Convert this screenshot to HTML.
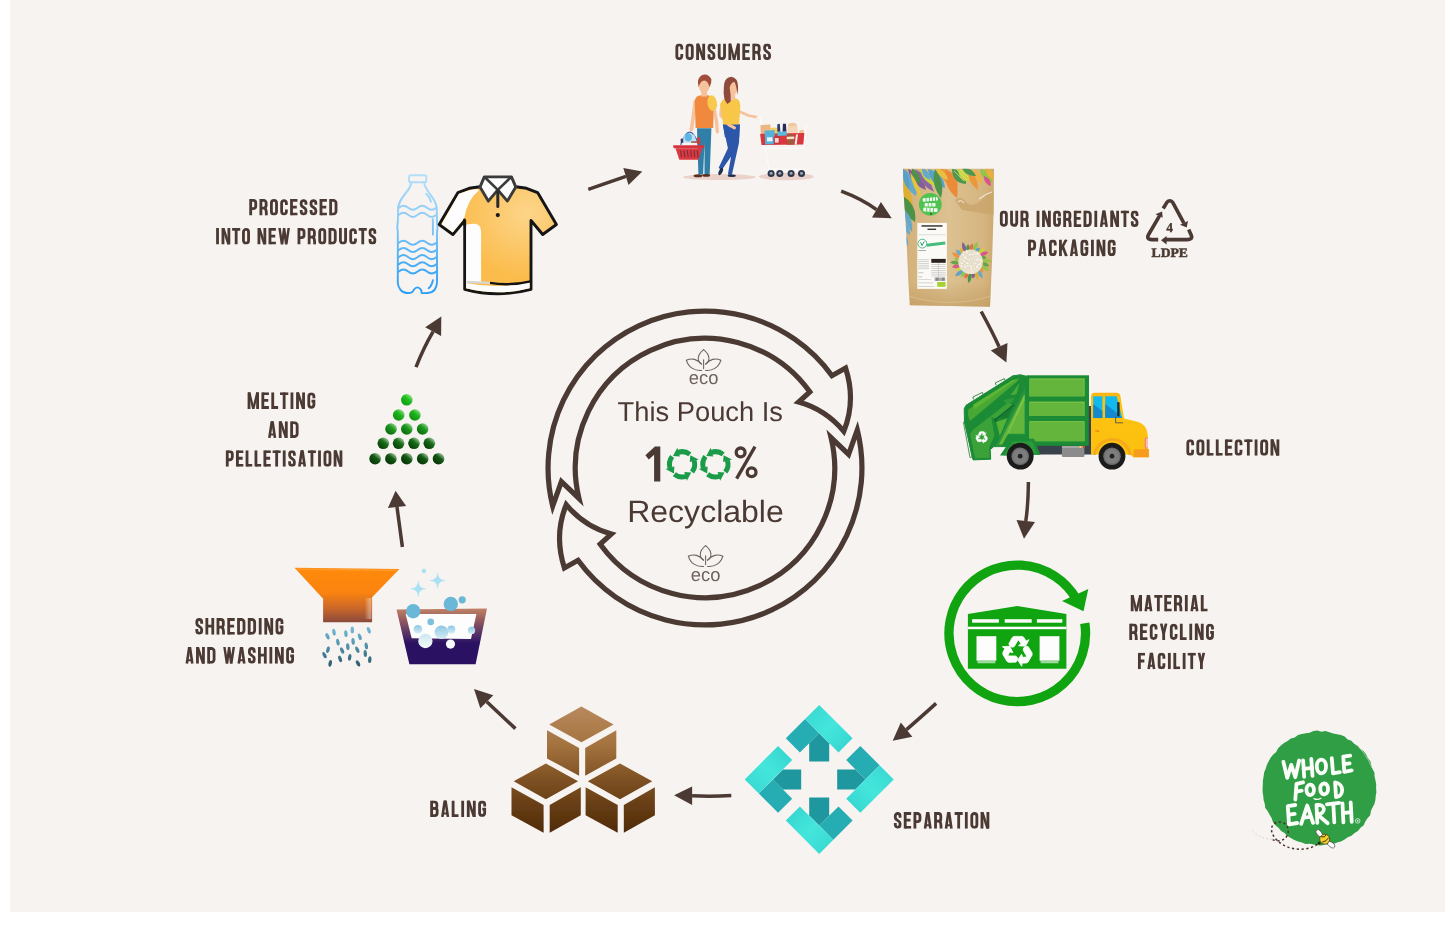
<!DOCTYPE html>
<html><head><meta charset="utf-8"><title>Recycling cycle</title>
<style>html,body{margin:0;padding:0;background:#fff;}body{width:1445px;height:942px;overflow:hidden;font-family:"Liberation Sans",sans-serif;}svg{display:block;} svg text{text-rendering:geometricPrecision;} svg{will-change:transform;}</style>
</head><body>
<svg width="1445" height="942" viewBox="0 0 1445 942">
<rect x="10" y="0" width="1435" height="912" fill="#f7f3f1"/>
<!-- 05_center.svg -->
<g font-family="Liberation Sans, sans-serif" fill="#4b3a33"><text x="617.6" y="421" font-size="27.4" textLength="165.4" lengthAdjust="spacingAndGlyphs">This Pouch Is</text><text x="627.2" y="522" font-size="30.8" textLength="156.6" lengthAdjust="spacingAndGlyphs">Recyclable</text></g><path d="M660.3 446.6 L660.3 481.4 L654.1 481.4 L654.1 454.8 L648.8 459.6 L645.4 455.3 L654.9 446.6 Z" fill="#4b3a33"/><g fill="none" stroke="#4b3a33" stroke-width="3.3"><circle cx="740.6" cy="452.4" r="4.4"/><circle cx="751.6" cy="472.2" r="4.4"/><path d="M755 446.6 L736.6 478.6"/></g><g transform="translate(682.1 464.3)"><g transform="rotate(0)"><path d="M7.76 -9.93 A12.6 12.6 0 0 0 -3.89 -11.98" fill="none" stroke="#1a9b48" stroke-width="5.0"/><path d="M-9.14 -8.23 L-4.74 -16.53 L-2.21 -7.69 Z" fill="#1a9b48"/></g><g transform="rotate(90)"><path d="M7.76 -9.93 A12.6 12.6 0 0 0 -3.89 -11.98" fill="none" stroke="#1a9b48" stroke-width="5.0"/><path d="M-9.14 -8.23 L-4.74 -16.53 L-2.21 -7.69 Z" fill="#1a9b48"/></g><g transform="rotate(180)"><path d="M7.76 -9.93 A12.6 12.6 0 0 0 -3.89 -11.98" fill="none" stroke="#1a9b48" stroke-width="5.0"/><path d="M-9.14 -8.23 L-4.74 -16.53 L-2.21 -7.69 Z" fill="#1a9b48"/></g><g transform="rotate(270)"><path d="M7.76 -9.93 A12.6 12.6 0 0 0 -3.89 -11.98" fill="none" stroke="#1a9b48" stroke-width="5.0"/><path d="M-9.14 -8.23 L-4.74 -16.53 L-2.21 -7.69 Z" fill="#1a9b48"/></g></g><g transform="translate(715.4 464.3)"><g transform="rotate(0)"><path d="M7.76 -9.93 A12.6 12.6 0 0 0 -3.89 -11.98" fill="none" stroke="#1a9b48" stroke-width="5.0"/><path d="M-9.14 -8.23 L-4.74 -16.53 L-2.21 -7.69 Z" fill="#1a9b48"/></g><g transform="rotate(90)"><path d="M7.76 -9.93 A12.6 12.6 0 0 0 -3.89 -11.98" fill="none" stroke="#1a9b48" stroke-width="5.0"/><path d="M-9.14 -8.23 L-4.74 -16.53 L-2.21 -7.69 Z" fill="#1a9b48"/></g><g transform="rotate(180)"><path d="M7.76 -9.93 A12.6 12.6 0 0 0 -3.89 -11.98" fill="none" stroke="#1a9b48" stroke-width="5.0"/><path d="M-9.14 -8.23 L-4.74 -16.53 L-2.21 -7.69 Z" fill="#1a9b48"/></g><g transform="rotate(270)"><path d="M7.76 -9.93 A12.6 12.6 0 0 0 -3.89 -11.98" fill="none" stroke="#1a9b48" stroke-width="5.0"/><path d="M-9.14 -8.23 L-4.74 -16.53 L-2.21 -7.69 Z" fill="#1a9b48"/></g></g><g fill="none" stroke="#6e625d" stroke-width="1.05" stroke-linecap="round"><path d="M703.6 349.6 C696.1 355.6 697.6 361.6 701.6 364.1"/><path d="M703.6 349.6 C711.1 355.6 709.6 361.6 705.6 364.1"/><path d="M703.6 359.8 L703.6 368.6"/><path d="M701.6 364.1 C697.6 359.1 691.6 357.8 686.4 360.2"/><path d="M686.4 360.2 C688.1 367.1 694.6 371.1 701.6 370.4"/><path d="M705.6 364.1 C709.6 359.1 715.6 357.8 720.8 360.2"/><path d="M720.8 360.2 C719.1 367.1 712.6 371.1 705.6 370.4"/></g><text x="703.6" y="384.1" font-family="Liberation Sans, sans-serif" font-size="18.6" fill="#6e625d" text-anchor="middle" textLength="29.6" lengthAdjust="spacingAndGlyphs">eco</text><g fill="none" stroke="#6e625d" stroke-width="1.05" stroke-linecap="round"><path d="M705.6 545.6 C698.1 551.6 699.6 557.6 703.6 560.1"/><path d="M705.6 545.6 C713.1 551.6 711.6 557.6 707.6 560.1"/><path d="M705.6 555.8 L705.6 564.6"/><path d="M703.6 560.1 C699.6 555.1 693.6 553.8 688.4 556.2"/><path d="M688.4 556.2 C690.1 563.1 696.6 567.1 703.6 566.4"/><path d="M707.6 560.1 C711.6 555.1 717.6 553.8 722.8 556.2"/><path d="M722.8 556.2 C721.1 563.1 714.6 567.1 707.6 566.4"/></g><text x="705.6" y="580.6" font-family="Liberation Sans, sans-serif" font-size="18.6" fill="#6e625d" text-anchor="middle" textLength="29.6" lengthAdjust="spacingAndGlyphs">eco</text>
<!-- 10_pellets.svg -->
<defs><linearGradient id="pg0" x1="0.88" y1="0.08" x2="0.2" y2="0.92"><stop offset="0" stop-color="#9cec96"/><stop offset="0.42" stop-color="#22c022"/><stop offset="1" stop-color="#0f9a0f"/></linearGradient><linearGradient id="pg1" x1="0.88" y1="0.08" x2="0.2" y2="0.92"><stop offset="0" stop-color="#94e48e"/><stop offset="0.42" stop-color="#1fb51f"/><stop offset="1" stop-color="#0e8e0e"/></linearGradient><linearGradient id="pg2" x1="0.88" y1="0.08" x2="0.2" y2="0.92"><stop offset="0" stop-color="#9ad894"/><stop offset="0.42" stop-color="#1f981f"/><stop offset="1" stop-color="#0b680b"/></linearGradient><linearGradient id="pg3" x1="0.88" y1="0.08" x2="0.2" y2="0.92"><stop offset="0" stop-color="#a8d2a4"/><stop offset="0.42" stop-color="#1a6c1a"/><stop offset="1" stop-color="#063e06"/></linearGradient><linearGradient id="pg4" x1="0.88" y1="0.08" x2="0.2" y2="0.92"><stop offset="0" stop-color="#b0d2ac"/><stop offset="0.42" stop-color="#145814"/><stop offset="1" stop-color="#053305"/></linearGradient></defs><g><circle cx="406.8" cy="399.8" r="5.8" fill="url(#pg0)"/><circle cx="398.7" cy="415.0" r="5.8" fill="url(#pg1)"/><circle cx="414.9" cy="415.0" r="5.8" fill="url(#pg1)"/><circle cx="391.0" cy="429.0" r="5.8" fill="url(#pg2)"/><circle cx="406.8" cy="429.0" r="5.8" fill="url(#pg2)"/><circle cx="422.6" cy="429.0" r="5.8" fill="url(#pg2)"/><circle cx="383.3" cy="443.3" r="5.8" fill="url(#pg3)"/><circle cx="398.6" cy="443.3" r="5.8" fill="url(#pg3)"/><circle cx="414.0" cy="443.3" r="5.8" fill="url(#pg3)"/><circle cx="429.3" cy="443.3" r="5.8" fill="url(#pg3)"/><circle cx="375.1" cy="458.7" r="5.8" fill="url(#pg4)"/><circle cx="390.9" cy="458.7" r="5.8" fill="url(#pg4)"/><circle cx="406.8" cy="458.7" r="5.8" fill="url(#pg4)"/><circle cx="422.7" cy="458.7" r="5.8" fill="url(#pg4)"/><circle cx="438.5" cy="458.7" r="5.8" fill="url(#pg4)"/></g>
<!-- 20_funnel.svg -->
<defs><linearGradient id="fg" x1="0" y1="0" x2="0" y2="1"><stop offset="0" stop-color="#ff8a0a"/><stop offset="0.45" stop-color="#fb8410"/><stop offset="0.75" stop-color="#c9662a"/><stop offset="1" stop-color="#8a4a3c"/></linearGradient>
<linearGradient id="dg" gradientUnits="userSpaceOnUse" x1="0" y1="627" x2="0" y2="668"><stop offset="0" stop-color="#74bbdb"/><stop offset="0.5" stop-color="#4f8ea6"/><stop offset="1" stop-color="#2c5866"/></linearGradient></defs>
<path d="M294.5 567.8 L399.5 569 L372.1 597.2 L372.1 622.3 L323.1 622.3 L323.1 598.7 Z" fill="url(#fg)"/>
<path d="M296.5 568.4 L397 569.6 L395.5 571 L298 570 Z" fill="#ffa23a" opacity="0.7"/>
<defs><linearGradient id="fhl" x1="0" y1="0" x2="1" y2="0"><stop offset="0" stop-color="#fff" stop-opacity="0"/><stop offset="0.75" stop-color="#fff" stop-opacity="0.4"/><stop offset="1" stop-color="#fff" stop-opacity="0.05"/></linearGradient></defs><rect x="364.5" y="598" width="7.6" height="21" fill="url(#fhl)"/><g fill="url(#dg)"><ellipse cx="334.0" cy="632.2" rx="1.7" ry="3.4" transform="rotate(-8 334.0 632.2)"/><ellipse cx="345.9" cy="633.7" rx="1.7" ry="3.4" transform="rotate(-5 345.9 633.7)"/><ellipse cx="352.3" cy="629.9" rx="1.7" ry="3.4" transform="rotate(0 352.3 629.9)"/><ellipse cx="368.8" cy="630.2" rx="1.7" ry="3.4" transform="rotate(-20 368.8 630.2)"/><ellipse cx="327.5" cy="636.3" rx="1.7" ry="3.4" transform="rotate(-25 327.5 636.3)"/><ellipse cx="337.9" cy="642.1" rx="1.7" ry="3.4" transform="rotate(-10 337.9 642.1)"/><ellipse cx="359.8" cy="636.8" rx="1.7" ry="3.4" transform="rotate(-20 359.8 636.8)"/><ellipse cx="347.8" cy="646.7" rx="1.7" ry="3.4" transform="rotate(-5 347.8 646.7)"/><ellipse cx="366.3" cy="645.9" rx="1.7" ry="3.4" transform="rotate(-8 366.3 645.9)"/><ellipse cx="328.0" cy="649.7" rx="1.7" ry="3.4" transform="rotate(15 328.0 649.7)"/><ellipse cx="342.1" cy="650.5" rx="1.7" ry="3.4" transform="rotate(-25 342.1 650.5)"/><ellipse cx="357.3" cy="649.7" rx="1.7" ry="3.4" transform="rotate(-25 357.3 649.7)"/><ellipse cx="324.5" cy="655.1" rx="1.7" ry="3.4" transform="rotate(-25 324.5 655.1)"/><ellipse cx="340.1" cy="658.9" rx="1.7" ry="3.4" transform="rotate(-20 340.1 658.9)"/><ellipse cx="349.7" cy="657.3" rx="1.7" ry="3.4" transform="rotate(8 349.7 657.3)"/><ellipse cx="369.8" cy="659.6" rx="1.7" ry="3.4" transform="rotate(5 369.8 659.6)"/><ellipse cx="330.2" cy="663.4" rx="1.7" ry="3.4" transform="rotate(10 330.2 663.4)"/><ellipse cx="358.0" cy="663.4" rx="1.7" ry="3.4" transform="rotate(-28 358.0 663.4)"/><ellipse cx="365.3" cy="653.5" rx="1.7" ry="3.4" transform="rotate(-5 365.3 653.5)"/><ellipse cx="353.1" cy="641.4" rx="1.7" ry="3.4" transform="rotate(-5 353.1 641.4)"/></g>
<!-- 21_basin.svg -->
<defs><linearGradient id="bsg" x1="0" y1="0" x2="0" y2="1"><stop offset="0" stop-color="#c08266"/><stop offset="0.18" stop-color="#9a5f5e"/><stop offset="0.5" stop-color="#4a2a68"/><stop offset="0.62" stop-color="#2a1162"/><stop offset="1" stop-color="#2a1162"/></linearGradient>
<linearGradient id="bub" x1="0" y1="0" x2="0" y2="1"><stop offset="0" stop-color="#8cc8e2"/><stop offset="1" stop-color="#d6ecf5"/></linearGradient>
<linearGradient id="bub2" x1="0" y1="0" x2="0" y2="1"><stop offset="0" stop-color="#cfe6f0"/><stop offset="1" stop-color="#f4fafc"/></linearGradient></defs>
<path d="M396.5 609.4 L487 608.6 L475.6 664.2 L409.4 664.2 Z" fill="url(#bsg)"/>
<path d="M405.6 614 L476.4 614 L471 639 L411.7 638.3 Z" fill="#fdfdfd"/>
<g fill="#6bb7d8">
<circle cx="413.2" cy="611.2" r="7.2"/><circle cx="450.8" cy="604" r="7.2"/><circle cx="462.2" cy="599.8" r="3.6"/>
<circle cx="430.7" cy="621.9" r="3.3" fill="#7cc0dc"/>
</g>
<g fill="url(#bub)"><circle cx="417.9" cy="629.2" r="4.3"/><circle cx="441.4" cy="632.2" r="6.8"/><circle cx="451.3" cy="629.6" r="4"/><circle cx="471.5" cy="630.4" r="3.7"/></g>
<circle cx="425.4" cy="641" r="7.2" fill="url(#bub2)"/><circle cx="450.5" cy="644.1" r="4.6" fill="#f6fbfd"/>
<g fill="#a9e0f2"><circle cx="423.9" cy="570.9" r="2.2"/>
<path d="M418.2 581.3 Q418.5 588.5 425.7 588.8 Q418.5 589.1 418.2 596.3 Q417.9 589.1 410.7 588.8 Q417.9 588.5 418.2 581.3Z" stroke="#a9e0f2" stroke-width="0.5"/>
<path d="M437.6 573 Q437.9 580.2 445.1 580.5 Q437.9 580.8 437.6 588 Q437.3 580.8 430.1 580.5 Q437.3 580.2 437.6 573Z" stroke="#a9e0f2" stroke-width="0.5"/></g>
<!-- 30_cubes.svg -->
<defs><linearGradient id="cbg" gradientUnits="userSpaceOnUse" x1="0" y1="706" x2="0" y2="834"><stop offset="0" stop-color="#b98a5f"/><stop offset="0.3" stop-color="#a4733f"/><stop offset="0.58" stop-color="#7d5022"/><stop offset="1" stop-color="#4e2906"/></linearGradient><filter id="cbb" x="-5%" y="-5%" width="110%" height="110%"><feGaussianBlur stdDeviation="0.35"/></filter></defs><g fill="url(#cbg)" filter="url(#cbb)"><polygon points="581.4,706.5 613.6,724.4 581.4,742.3 549.2,724.4"/><polygon points="547.0,730.3 579.1,748.1 579.1,775.8 547.0,758.4"/><polygon points="585.2,748.1 616.3,730.3 616.3,758.4 585.2,775.8"/><polygon points="545.9,763.4 578.1,781.3 545.9,799.2 513.7,781.3"/><polygon points="511.5,787.2 543.6,805.0 543.6,832.7 511.5,815.3"/><polygon points="549.7,805.0 580.8,787.2 580.8,815.3 549.7,832.7"/><polygon points="620.0,763.4 652.2,781.3 620.0,799.2 587.8,781.3"/><polygon points="585.6,787.2 617.7,805.0 617.7,832.7 585.6,815.3"/><polygon points="623.8,805.0 654.9,787.2 654.9,815.3 623.8,832.7"/></g>
<!-- 40_separation.svg -->
<defs><linearGradient id="spl" x1="0" y1="0" x2="1" y2="1"><stop offset="0" stop-color="#36d6cf"/><stop offset="0.5" stop-color="#44e6dc"/><stop offset="1" stop-color="#33d2cc"/></linearGradient><g id="sparr"><polygon points="-14.1,-60.4 -33.4,-41.1 -19.3,-27 0,-46.2" fill="#25adb3"/><polygon points="0,-46.2 10,-36.2 10,-18 -10,-18 -10,-36.2" fill="#1e979f"/><polygon points="0,-74.5 33.4,-41.1 19.3,-27 -14.1,-60.4" fill="url(#spl)"/></g></defs><g transform="translate(819.2 779.4)"><use href="#sparr" transform="rotate(0)"/><use href="#sparr" transform="rotate(90)"/><use href="#sparr" transform="rotate(180)"/><use href="#sparr" transform="rotate(270)"/></g>
<!-- 50_facility.svg -->
<g><path d="M1084.8 623.2 A68.3 68.3 0 1 1 1076.4 599.2" fill="none" stroke="#10a410" stroke-width="9.3"/><path d="M1088.3 588.9 L1062 601.1 L1083.5 611.3 Z" fill="#10a410"/><path d="M967.9 613.9 L1017.3 606.1 L1066.4 613.9 L1066.4 668.8 L967.9 668.8 Z" fill="#10a410"/><g fill="#fdfdfd"><rect x="972.1" y="619.2" width="26.8" height="3.5"/><rect x="1004.7" y="619.2" width="27" height="3.5"/><rect x="1036.9" y="619.2" width="25.4" height="3.5"/><rect x="967.9" y="626.7" width="98.5" height="2.5"/><rect x="976.5" y="636.2" width="19.8" height="24.5"/><rect x="1039.6" y="636.2" width="19.8" height="24.5"/></g><g fill="#9fd89f"><rect x="977.5" y="660.7" width="17.8" height="2.6"/><rect x="1040.6" y="660.7" width="17.8" height="2.6"/></g><g transform="translate(1017.70 650.90) scale(1.000) rotate(0)" fill="#fdfdfd" stroke="#fdfdfd" stroke-width="0.8" stroke-linejoin="round"><path d="M-8.90 -7.00 L-5.60 -13.20 L-3.80 -14.50 L4.60 -14.50 L6.20 -13.40 L8.40 -9.90 L11.30 -11.20 L7.90 -4.60 L0.90 -5.10 L3.20 -7.40 L0.60 -11.20 L-3.40 -4.40 L-5.40 -3.60 L-7.60 -4.60 Z" transform="rotate(0)"/><path d="M-8.90 -7.00 L-5.60 -13.20 L-3.80 -14.50 L4.60 -14.50 L6.20 -13.40 L8.40 -9.90 L11.30 -11.20 L7.90 -4.60 L0.90 -5.10 L3.20 -7.40 L0.60 -11.20 L-3.40 -4.40 L-5.40 -3.60 L-7.60 -4.60 Z" transform="rotate(120)"/><path d="M-8.90 -7.00 L-5.60 -13.20 L-3.80 -14.50 L4.60 -14.50 L6.20 -13.40 L8.40 -9.90 L11.30 -11.20 L7.90 -4.60 L0.90 -5.10 L3.20 -7.40 L0.60 -11.20 L-3.40 -4.40 L-5.40 -3.60 L-7.60 -4.60 Z" transform="rotate(240)"/></g></g>
<!-- 60_truck.svg -->
<g><rect x="1034" y="445" width="58" height="9.5" fill="#38414c"/><rect x="1061.9" y="446" width="22.5" height="11" rx="1" fill="#8b8b8b"/><rect x="1061.9" y="446" width="22.5" height="2" fill="#a5a5a5"/><path d="M963.4 422.2 L965.6 421.8 L972.0 457 L970.0 457.6 Z" fill="#e9f0e6" stroke="#2f7f3d" stroke-width="0.8"/><polygon points="964.2,408.8 966.0,405.3 1012.9,375.8 1020.5,374.8 1029.1,376.9 1029.6,446.6 993.8,446.6 990.2,449.6 990.7,459.2 973.1,459.9 964.5,422.4" fill="#1b8b36" stroke="#1b8b36" stroke-width="1" stroke-linejoin="round"/><polygon points="968.3,409.5 1012.9,379.9 1019.5,378.3 1016.5,382.1 970.1,420.9 968.1,415.4" fill="#49a834" /><polygon points="973.1,404.8 1012.4,380.1 1016.5,379.6 974.1,409.3" fill="#5cb636" /><polygon points="972.1,430.5 1008.4,402.3 1012.4,404.8 996.3,418.4 992.3,420.4 994.8,435.5 989.2,447.6 989.7,457.7 975.1,458.2 970.1,434.5" fill="#3ba23a" /><polygon points="996.3,421.9 1007.4,418.2 999.8,436.0" fill="#55b236" /><polygon points="1010.4,395.2 1019.5,383.1 1016.5,394.2" fill="#4aaa36" /><polygon points="1003.3,400.2 1014.4,397.2 1012.4,402.3 1005.4,403.3" fill="#2f9a3a" /><polygon points="1025.3,387.1 1025.3,434.5 1007.4,434.5 1000.8,446.6 995.3,446.6" fill="#2a953c" /><polygon points="1024.5,394.2 1024.5,433.7 1008.2,433.7 1002.3,444.6 998.8,444.6" fill="#63b53c" /><polygon points="1024.5,394.2 1024.5,400.2 1008.2,433.7 1006.9,433.7" fill="#7cc444" /><path d="M1013.9 404.8 L995.5 419.6" stroke="#156b2c" stroke-width="1.5"/><polygon points="998.8,418.2 1012.9,406.8 1007.4,417.9" fill="#197a30" /><circle cx="995.5" cy="419.8" r="1.9" fill="#156b2c"/><path d="M992.1 417.4 L995.3 435.5 L990.2 448.1" fill="none" stroke="#1d8a36" stroke-width="1.6"/><path d="M973.6 399.4 L972.9 397.0 L982.4 392.4 L983.2 394.7" fill="none" stroke="#2c7f3a" stroke-width="0.9"/><path d="M996.0 385.1 L995.3 382.9 L1004.4 378.6 L1005.2 380.6" fill="none" stroke="#2c7f3a" stroke-width="0.9"/><g transform="translate(981.80 437.20) scale(0.400) rotate(0)" fill="#ffffff" stroke="#ffffff" stroke-width="0.8" stroke-linejoin="round"><path d="M-8.90 -7.00 L-5.60 -13.20 L-3.80 -14.50 L4.60 -14.50 L6.20 -13.40 L8.40 -9.90 L11.30 -11.20 L7.90 -4.60 L0.90 -5.10 L3.20 -7.40 L0.60 -11.20 L-3.40 -4.40 L-5.40 -3.60 L-7.60 -4.60 Z" transform="rotate(0)"/><path d="M-8.90 -7.00 L-5.60 -13.20 L-3.80 -14.50 L4.60 -14.50 L6.20 -13.40 L8.40 -9.90 L11.30 -11.20 L7.90 -4.60 L0.90 -5.10 L3.20 -7.40 L0.60 -11.20 L-3.40 -4.40 L-5.40 -3.60 L-7.60 -4.60 Z" transform="rotate(120)"/><path d="M-8.90 -7.00 L-5.60 -13.20 L-3.80 -14.50 L4.60 -14.50 L6.20 -13.40 L8.40 -9.90 L11.30 -11.20 L7.90 -4.60 L0.90 -5.10 L3.20 -7.40 L0.60 -11.20 L-3.40 -4.40 L-5.40 -3.60 L-7.60 -4.60 Z" transform="rotate(240)"/></g><rect x="1026.5" y="375.3" width="62.5" height="70.5" fill="#1b8b36"/><rect x="1029.4" y="378.4" width="55.2" height="17.9" fill="#8ccb4a"/><rect x="1029.4" y="379.3" width="54.4" height="17.0" fill="#63b53c"/><rect x="1029.4" y="401.6" width="55.2" height="14.4" fill="#8ccb4a"/><rect x="1029.4" y="402.5" width="54.4" height="13.5" fill="#63b53c"/><rect x="1029.4" y="421.2" width="55.2" height="20.0" fill="#8ccb4a"/><rect x="1029.4" y="422.1" width="54.4" height="19.1" fill="#63b53c"/><path d="M1000 455.5 L1011.5 438.8 L1034 438.8 L1040.5 454.8 Z" fill="#1b8b36"/><path d="M1003.5 455.5 L1013 441.3 L1032.3 441.3 L1037.5 454.8 Z" fill="#2d9a3a"/><circle cx="1080.4" cy="447" r="1.1" fill="#f3e22a"/><circle cx="1083.8" cy="447" r="1.1" fill="#e0352b"/><rect x="1088.8" y="406" width="3" height="48" fill="#39424d"/><defs><linearGradient id="cabg" x1="0" y1="0" x2="0" y2="1"><stop offset="0" stop-color="#f9b413"/><stop offset="0.12" stop-color="#fdc30f"/><stop offset="1" stop-color="#fcc010"/></linearGradient></defs>
<path d="M1091 397 Q1091 392.7 1095 392.7 L1116.6 392.7 Q1119.6 392.7 1120.4 396 L1124 418.4 L1137.5 421.8 Q1145.5 424.5 1147.2 431.5 L1148 437 L1148 452.5 L1148.9 453.5 L1148.9 457.2 L1133.6 457.2 L1130 454.6 L1091 454.6 Z" fill="url(#cabg)"/><path d="M1134 449.6 L1148.9 449 L1148.9 457.3 L1133.4 457.3 Z" fill="#f79b1c"/><path d="M1095.8 455 A16.6 16.6 0 0 1 1128.6 455 L1131.5 455 A19.4 19.4 0 0 0 1093 455 Z" fill="#f6a91a"/><rect x="1093.2" y="396.3" width="9.2" height="21.8" fill="#12b9ee"/><path d="M1093.2 404 L1102.4 411 L1102.4 418.1 L1093.2 418.1 Z" fill="#1489cd"/><path d="M1105.2 396.3 L1116.6 396.3 L1122.2 418.1 L1105.2 418.1 Z" fill="#12b9ee"/><path d="M1105.2 404 L1117 413 L1122.2 418.1 L1105.2 418.1 Z" fill="#1489cd"/><rect x="1117.2" y="402" width="2.4" height="14.5" rx="1" fill="#2b2b2b"/><path d="M1115.6 417 L1115.6 422.8 L1123 422.8" fill="none" stroke="#444" stroke-width="0.8"/><path d="M1095.3 430.6 L1099.2 431.3" stroke="#ef7d1a" stroke-width="1.3"/><rect x="1144.6" y="437.6" width="3.4" height="11" rx="1.4" fill="#f28b74"/><rect x="1146.4" y="438.6" width="1.2" height="9" rx="0.6" fill="#fde3da"/><circle cx="1020.2" cy="456.2" r="13.4" fill="#1b1b1b"/><circle cx="1020.2" cy="456.2" r="8.8" fill="#6f6f6f"/><circle cx="1020.2" cy="456.2" r="7.2" fill="#7d7d7d"/><circle cx="1020.2" cy="456.2" r="2.4" fill="#222"/><circle cx="1112.0" cy="456.2" r="13.4" fill="#1b1b1b"/><circle cx="1112.0" cy="456.2" r="8.8" fill="#6f6f6f"/><circle cx="1112.0" cy="456.2" r="7.2" fill="#7d7d7d"/><circle cx="1112.0" cy="456.2" r="2.4" fill="#222"/></g>
<!-- 70_pouch.svg -->
<defs>
<linearGradient id="krg" x1="0" y1="0" x2="1" y2="0"><stop offset="0" stop-color="#c9a266"/><stop offset="0.1" stop-color="#d4b37d"/><stop offset="0.5" stop-color="#dcc191"/><stop offset="0.85" stop-color="#d5b580"/><stop offset="1" stop-color="#c9a56a"/></linearGradient>
<linearGradient id="krs" x1="0" y1="0" x2="0" y2="1"><stop offset="0" stop-color="#b98f50" stop-opacity="0"/><stop offset="0.8" stop-color="#b98f50" stop-opacity="0"/><stop offset="1" stop-color="#b98f50" stop-opacity="0.55"/></linearGradient>
<clipPath id="pclip"><path d="M903 168.8 L994 168.8 L993.5 215 L992 262 L990 306.8 L909.8 305.3 L908.3 280 L906 228 L903.4 190 Z"/></clipPath>
</defs>
<g clip-path="url(#pclip)">
<rect x="900" y="165" width="98" height="145" fill="url(#krg)"/>
<rect x="900" y="165" width="98" height="145" fill="url(#krs)"/>
<path d="M955 200 Q961 195 965 201 Q972 210 984 198 Q988 193 994 192 L994 215 Q975 212 962 210 Z" fill="#c9a56c" opacity="0.8"/><path d="M958 202 Q961 199 964 203 M979 199 Q985 194 992 192" fill="none" stroke="#efe6d2" stroke-width="1.1"/><g opacity="0.82"><path d="M905.0 170.0 Q901.8 186.7 916.0 196.0 Q919.2 179.3 905.0 170.0 Z" fill="#4fa6dc"/><path d="M908.0 169.0 Q911.2 184.4 926.0 190.0 Q922.8 174.6 908.0 169.0 Z" fill="#6f4a9c"/><path d="M915.0 169.0 Q919.4 184.7 934.0 192.0 Q929.6 176.3 915.0 169.0 Z" fill="#7a55a8"/><path d="M903.0 180.0 Q900.2 198.1 912.0 212.0 Q914.8 193.9 903.0 180.0 Z" fill="#e0b020"/><path d="M903.0 196.0 Q900.4 213.0 915.0 222.0 Q917.6 205.0 903.0 196.0 Z" fill="#2e8b3c"/><path d="M905.0 210.0 Q903.1 222.7 912.0 232.0 Q913.9 219.3 905.0 210.0 Z" fill="#4fa6dc"/><path d="M920.0 169.0 Q922.5 182.7 936.0 186.0 Q933.5 172.3 920.0 169.0 Z" fill="#c6d92e"/><path d="M928.0 169.0 Q929.4 184.8 945.0 188.0 Q943.6 172.2 928.0 169.0 Z" fill="#3f9bd6"/><path d="M935.0 169.0 Q930.6 185.0 941.0 198.0 Q945.4 182.0 935.0 169.0 Z" fill="#2e8b3c"/><path d="M940.0 169.0 Q941.2 185.8 958.0 186.0 Q956.8 169.2 940.0 169.0 Z" fill="#f08a2c"/><path d="M946.0 169.0 Q942.6 186.9 957.0 198.0 Q960.4 180.1 946.0 169.0 Z" fill="#ee7f24"/><path d="M952.0 169.0 Q952.1 183.0 966.0 184.0 Q965.9 170.0 952.0 169.0 Z" fill="#2f8f46"/><path d="M958.0 169.0 Q958.4 180.7 970.0 182.0 Q969.6 170.3 958.0 169.0 Z" fill="#c8d83a"/><path d="M968.0 169.0 Q967.0 182.4 978.0 190.0 Q979.0 176.6 968.0 169.0 Z" fill="#f0922e"/><path d="M974.0 169.0 Q973.0 179.2 982.0 184.0 Q983.0 173.8 974.0 169.0 Z" fill="#f4b23a"/><path d="M980.0 169.0 Q980.4 180.7 992.0 182.0 Q991.6 170.3 980.0 169.0 Z" fill="#8cc63e"/><path d="M984.0 176.0 Q983.6 183.7 991.0 186.0 Q991.4 178.3 984.0 176.0 Z" fill="#d8428a"/><path d="M903.0 168.0 Q900.5 180.5 909.0 190.0 Q911.5 177.5 903.0 168.0 Z" fill="#3f9bd6"/><path d="M912.0 168.0 Q910.9 178.5 920.0 184.0 Q921.1 173.5 912.0 168.0 Z" fill="#2e8b3c"/><path d="M922.0 168.0 Q921.3 177.2 930.0 180.0 Q930.7 170.8 922.0 168.0 Z" fill="#4fa6dc"/><path d="M936.0 168.0 Q938.0 178.0 948.0 180.0 Q946.0 170.0 936.0 168.0 Z" fill="#e8c030"/><path d="M962.0 168.0 Q966.2 176.9 976.0 176.0 Q971.8 167.1 962.0 168.0 Z" fill="#2f8f46"/><path d="M986.0 168.0 Q985.3 177.2 994.0 180.0 Q994.7 170.8 986.0 168.0 Z" fill="#f0b030"/><path d="M903.0 232.0 Q901.9 240.3 908.0 246.0 Q909.1 237.7 903.0 232.0 Z" fill="#4fa6dc"/><path d="M903.0 222.0 Q902.3 230.8 910.0 235.0 Q910.7 226.2 903.0 222.0 Z" fill="#5aa8dc"/><path d="M910.0 172.0 Q912.2 187.6 922.0 200.0 Q919.8 184.4 910.0 172.0 Z" fill="#e6c82a"/></g><path d="M954 171 L964 181 M957 170 L967 180 M960 170 L969 178" stroke="#dfe86a" stroke-width="0.7"/><circle cx="930.3" cy="204.3" r="11.4" fill="#4fc24f"/><g fill="#eefaf0"><rect x="922.6" y="197.6" width="15.2" height="3.6" rx="1" transform="rotate(-5 930 199)"/><rect x="924.6" y="203" width="11" height="3.4" rx="1"/><rect x="923.2" y="207.9" width="14.4" height="3.8" rx="1" transform="rotate(3 930 210)"/></g><g fill="#4fc24f"><rect x="925.7" y="197" width="0.8" height="5"/><rect x="929" y="197" width="0.8" height="5"/><rect x="932.2" y="197" width="0.8" height="5"/><rect x="935" y="197" width="0.8" height="5"/><rect x="927.8" y="202.8" width="0.8" height="4"/><rect x="931.4" y="202.8" width="0.8" height="4"/><rect x="926.4" y="207.6" width="0.8" height="4.6"/><rect x="929.6" y="207.6" width="0.8" height="4.6"/><rect x="933" y="207.6" width="0.8" height="4.6"/></g><circle cx="931" cy="213.8" r="0.9" fill="#4a3a20"/><rect x="917.3" y="222.9" width="29.6" height="66" fill="#fbfaf6"/><rect x="921.5" y="225.2" width="21" height="1.5" fill="#3a3a3a"/><rect x="927.5" y="228.6" width="8.6" height="1.4" fill="#3a3a3a"/><rect x="918.5" y="234.6" width="27" height="0.5" fill="#bdbdbd"/><circle cx="922.3" cy="243.6" r="4.4" fill="#fff" stroke="#3cb878" stroke-width="0.9"/><path d="M920.6 242.2 L922 245.6 L924.3 241.4" fill="none" stroke="#2c9a5e" stroke-width="1"/><rect x="926.5" y="242.6" width="18.8" height="3.1" fill="#46bd7e" transform="rotate(-7 936 244)"/><rect x="918.4" y="250.2" width="7.5" height="0.7" fill="#8a8a8a"/><rect x="931.3" y="258.9" width="14.4" height="3.9" fill="#2a221c"/><g fill="#b9b9b9"><rect x="931.3" y="264.3" width="14.4" height="0.6"/><rect x="931.3" y="266.2" width="14.4" height="0.6"/><rect x="931.3" y="268.1" width="14.4" height="0.6"/><rect x="931.3" y="270.0" width="14.4" height="0.6"/><rect x="931.3" y="271.9" width="14.4" height="0.6"/><rect x="931.3" y="273.8" width="14.4" height="0.6"/><rect x="931.3" y="275.7" width="14.4" height="0.6"/><rect x="918.3" y="259.5" width="10.6" height="0.6"/><rect x="918.3" y="261.3" width="10.6" height="0.6"/><rect x="918.3" y="263.1" width="10.6" height="0.6"/><rect x="918.3" y="264.9" width="10.6" height="0.6"/><rect x="918.3" y="266.7" width="10.6" height="0.6"/><rect x="918.3" y="268.5" width="10.6" height="0.6"/><rect x="938" y="263" width="0.5" height="14"/><rect x="918.3" y="272.4" width="5" height="0.8"/><rect x="918.3" y="276.5" width="4" height="0.8"/><rect x="918.3" y="279" width="13" height="0.5"/><rect x="918.3" y="282.6" width="15" height="0.6"/><rect x="918.3" y="286.2" width="16" height="0.6"/></g><g fill="#555"><rect x="934.8" y="277.5" width="0.7" height="3.4"/><rect x="936.0" y="277.5" width="0.7" height="3.4"/><rect x="937.2" y="277.5" width="0.7" height="3.4"/><rect x="938.4" y="277.5" width="0.7" height="3.4"/><rect x="939.6" y="277.5" width="0.7" height="3.4"/><rect x="940.8" y="277.5" width="0.7" height="3.4"/><rect x="942.0" y="277.5" width="0.7" height="3.4"/><rect x="943.2" y="277.5" width="0.7" height="3.4"/><rect x="944.4" y="277.5" width="0.7" height="3.4"/></g><rect x="937.2" y="282" width="8.4" height="4.8" fill="#a4d233"/><g opacity="0.8"><path d="M981.0 262.8 Q983.7 267.9 989.1 265.9 Q986.5 260.8 981.0 262.8 Z" fill="#4a9e3a"/><path d="M980.5 265.3 Q982.8 271.4 989.3 271.1 Q987.0 265.0 980.5 265.3 Z" fill="#8cc63e"/><path d="M979.4 267.6 Q978.3 272.4 983.2 272.5 Q984.3 267.7 979.4 267.6 Z" fill="#f08a2c"/><path d="M977.7 269.5 Q976.8 275.8 982.6 278.4 Q983.5 272.1 977.7 269.5 Z" fill="#4fa6dc"/><path d="M975.7 271.0 Q973.1 276.4 977.9 279.9 Q980.5 274.5 975.7 271.0 Z" fill="#e0b020"/><path d="M973.3 271.9 Q969.4 275.0 973.0 278.4 Q977.0 275.4 973.3 271.9 Z" fill="#6f4a9c"/><path d="M970.8 272.3 Q965.9 276.9 968.5 283.1 Q973.4 278.5 970.8 272.3 Z" fill="#2e8b3c"/><path d="M968.3 272.0 Q963.1 273.6 964.6 278.8 Q969.8 277.3 968.3 272.0 Z" fill="#ee5a3a"/><path d="M965.9 271.2 Q960.5 271.4 960.7 276.8 Q966.1 276.6 965.9 271.2 Z" fill="#7ac943"/><path d="M963.8 269.8 Q957.1 270.0 954.9 276.3 Q961.6 276.1 963.8 269.8 Z" fill="#3f9bd6"/><path d="M962.1 267.9 Q957.8 265.3 955.8 270.0 Q960.1 272.6 962.1 267.9 Z" fill="#c6d92e"/><path d="M960.9 265.7 Q955.9 262.5 951.9 266.9 Q956.8 270.1 960.9 265.7 Z" fill="#d8428a"/><path d="M960.2 263.3 Q955.5 259.0 950.0 262.2 Q954.7 266.5 960.2 263.3 Z" fill="#4a9e3a"/><path d="M960.2 260.8 Q958.9 256.0 954.5 258.2 Q955.8 262.9 960.2 260.8 Z" fill="#8cc63e"/><path d="M960.7 258.3 Q958.4 252.2 952.0 252.6 Q954.3 258.6 960.7 258.3 Z" fill="#f08a2c"/><path d="M961.8 256.0 Q961.8 250.2 956.0 249.4 Q956.1 255.2 961.8 256.0 Z" fill="#4fa6dc"/><path d="M963.5 254.1 Q965.5 249.4 960.6 248.0 Q958.6 252.6 963.5 254.1 Z" fill="#e0b020"/><path d="M965.5 252.6 Q967.7 246.2 962.6 241.9 Q960.4 248.3 965.5 252.6 Z" fill="#6f4a9c"/><path d="M967.9 251.7 Q971.8 248.1 968.1 244.3 Q964.2 247.9 967.9 251.7 Z" fill="#2e8b3c"/><path d="M970.4 251.3 Q975.1 248.4 972.4 243.6 Q967.7 246.5 970.4 251.3 Z" fill="#ee5a3a"/><path d="M972.9 251.6 Q978.7 248.3 977.7 241.8 Q971.9 245.0 972.9 251.6 Z" fill="#7ac943"/><path d="M975.3 252.4 Q980.2 252.8 979.8 247.9 Q974.8 247.5 975.3 252.4 Z" fill="#3f9bd6"/><path d="M977.4 253.8 Q983.5 254.2 985.1 248.3 Q979.1 248.0 977.4 253.8 Z" fill="#c6d92e"/><path d="M979.1 255.7 Q985.1 257.4 988.3 252.0 Q982.3 250.3 979.1 255.7 Z" fill="#d8428a"/><path d="M980.3 257.9 Q983.7 261.5 986.6 257.5 Q983.2 253.9 980.3 257.9 Z" fill="#4a9e3a"/><path d="M981.0 260.3 Q985.9 264.6 991.6 261.3 Q986.7 257.0 981.0 260.3 Z" fill="#8cc63e"/></g><circle cx="970.6" cy="261.8" r="12.3" fill="#ebe3d0"/><ellipse cx="968.7" cy="265.6" rx="1.9" ry="1.2" fill="#faf7ee" stroke="#cfc4aa" stroke-width="0.25" transform="rotate(12 968.7 265.6)"/><ellipse cx="977.8" cy="265.3" rx="1.9" ry="1.2" fill="#f1ead8" stroke="#cfc4aa" stroke-width="0.25" transform="rotate(149 977.8 265.3)"/><ellipse cx="977.9" cy="264.6" rx="1.9" ry="1.2" fill="#f7f2e6" stroke="#cfc4aa" stroke-width="0.25" transform="rotate(22 977.9 264.6)"/><ellipse cx="967.9" cy="263.0" rx="1.9" ry="1.2" fill="#f7f2e6" stroke="#cfc4aa" stroke-width="0.25" transform="rotate(141 967.9 263.0)"/><ellipse cx="961.7" cy="266.4" rx="1.9" ry="1.2" fill="#f7f2e6" stroke="#cfc4aa" stroke-width="0.25" transform="rotate(57 961.7 266.4)"/><ellipse cx="964.9" cy="255.7" rx="1.9" ry="1.2" fill="#f7f2e6" stroke="#cfc4aa" stroke-width="0.25" transform="rotate(147 964.9 255.7)"/><ellipse cx="968.5" cy="260.5" rx="1.9" ry="1.2" fill="#f7f2e6" stroke="#cfc4aa" stroke-width="0.25" transform="rotate(11 968.5 260.5)"/><ellipse cx="966.8" cy="260.4" rx="1.9" ry="1.2" fill="#f1ead8" stroke="#cfc4aa" stroke-width="0.25" transform="rotate(36 966.8 260.4)"/><ellipse cx="962.6" cy="259.7" rx="1.9" ry="1.2" fill="#faf7ee" stroke="#cfc4aa" stroke-width="0.25" transform="rotate(174 962.6 259.7)"/><ellipse cx="974.1" cy="269.4" rx="1.9" ry="1.2" fill="#faf7ee" stroke="#cfc4aa" stroke-width="0.25" transform="rotate(48 974.1 269.4)"/><ellipse cx="964.9" cy="267.6" rx="1.9" ry="1.2" fill="#f7f2e6" stroke="#cfc4aa" stroke-width="0.25" transform="rotate(144 964.9 267.6)"/><ellipse cx="975.2" cy="263.6" rx="1.9" ry="1.2" fill="#faf7ee" stroke="#cfc4aa" stroke-width="0.25" transform="rotate(136 975.2 263.6)"/><ellipse cx="965.1" cy="264.5" rx="1.9" ry="1.2" fill="#faf7ee" stroke="#cfc4aa" stroke-width="0.25" transform="rotate(116 965.1 264.5)"/><ellipse cx="967.1" cy="266.0" rx="1.9" ry="1.2" fill="#f7f2e6" stroke="#cfc4aa" stroke-width="0.25" transform="rotate(178 967.1 266.0)"/><ellipse cx="971.2" cy="258.7" rx="1.9" ry="1.2" fill="#f1ead8" stroke="#cfc4aa" stroke-width="0.25" transform="rotate(134 971.2 258.7)"/><ellipse cx="964.2" cy="262.0" rx="1.9" ry="1.2" fill="#f1ead8" stroke="#cfc4aa" stroke-width="0.25" transform="rotate(73 964.2 262.0)"/><ellipse cx="968.3" cy="259.9" rx="1.9" ry="1.2" fill="#faf7ee" stroke="#cfc4aa" stroke-width="0.25" transform="rotate(107 968.3 259.9)"/><ellipse cx="973.9" cy="267.3" rx="1.9" ry="1.2" fill="#f1ead8" stroke="#cfc4aa" stroke-width="0.25" transform="rotate(107 973.9 267.3)"/><ellipse cx="979.3" cy="264.0" rx="1.9" ry="1.2" fill="#faf7ee" stroke="#cfc4aa" stroke-width="0.25" transform="rotate(146 979.3 264.0)"/><ellipse cx="973.0" cy="252.1" rx="1.9" ry="1.2" fill="#f1ead8" stroke="#cfc4aa" stroke-width="0.25" transform="rotate(177 973.0 252.1)"/><ellipse cx="966.0" cy="268.1" rx="1.9" ry="1.2" fill="#f1ead8" stroke="#cfc4aa" stroke-width="0.25" transform="rotate(17 966.0 268.1)"/><ellipse cx="976.3" cy="252.8" rx="1.9" ry="1.2" fill="#f1ead8" stroke="#cfc4aa" stroke-width="0.25" transform="rotate(178 976.3 252.8)"/><ellipse cx="969.2" cy="259.5" rx="1.9" ry="1.2" fill="#faf7ee" stroke="#cfc4aa" stroke-width="0.25" transform="rotate(79 969.2 259.5)"/><ellipse cx="964.0" cy="253.0" rx="1.9" ry="1.2" fill="#f1ead8" stroke="#cfc4aa" stroke-width="0.25" transform="rotate(72 964.0 253.0)"/><ellipse cx="968.4" cy="251.7" rx="1.9" ry="1.2" fill="#f1ead8" stroke="#cfc4aa" stroke-width="0.25" transform="rotate(5 968.4 251.7)"/><ellipse cx="976.7" cy="259.4" rx="1.9" ry="1.2" fill="#faf7ee" stroke="#cfc4aa" stroke-width="0.25" transform="rotate(29 976.7 259.4)"/><ellipse cx="965.5" cy="262.0" rx="1.9" ry="1.2" fill="#f1ead8" stroke="#cfc4aa" stroke-width="0.25" transform="rotate(33 965.5 262.0)"/><ellipse cx="970.1" cy="254.9" rx="1.9" ry="1.2" fill="#f1ead8" stroke="#cfc4aa" stroke-width="0.25" transform="rotate(20 970.1 254.9)"/><ellipse cx="974.1" cy="267.8" rx="1.9" ry="1.2" fill="#f1ead8" stroke="#cfc4aa" stroke-width="0.25" transform="rotate(35 974.1 267.8)"/><ellipse cx="974.9" cy="252.5" rx="1.9" ry="1.2" fill="#f1ead8" stroke="#cfc4aa" stroke-width="0.25" transform="rotate(180 974.9 252.5)"/><ellipse cx="964.9" cy="265.1" rx="1.9" ry="1.2" fill="#f1ead8" stroke="#cfc4aa" stroke-width="0.25" transform="rotate(59 964.9 265.1)"/><ellipse cx="973.3" cy="265.6" rx="1.9" ry="1.2" fill="#f7f2e6" stroke="#cfc4aa" stroke-width="0.25" transform="rotate(168 973.3 265.6)"/><ellipse cx="971.4" cy="269.4" rx="1.9" ry="1.2" fill="#faf7ee" stroke="#cfc4aa" stroke-width="0.25" transform="rotate(46 971.4 269.4)"/><ellipse cx="970.5" cy="262.5" rx="1.9" ry="1.2" fill="#f1ead8" stroke="#cfc4aa" stroke-width="0.25" transform="rotate(136 970.5 262.5)"/><ellipse cx="965.0" cy="267.9" rx="1.9" ry="1.2" fill="#f7f2e6" stroke="#cfc4aa" stroke-width="0.25" transform="rotate(176 965.0 267.9)"/><ellipse cx="977.4" cy="253.5" rx="1.9" ry="1.2" fill="#faf7ee" stroke="#cfc4aa" stroke-width="0.25" transform="rotate(173 977.4 253.5)"/><ellipse cx="970.1" cy="254.4" rx="1.9" ry="1.2" fill="#faf7ee" stroke="#cfc4aa" stroke-width="0.25" transform="rotate(143 970.1 254.4)"/><ellipse cx="965.2" cy="266.1" rx="1.9" ry="1.2" fill="#f7f2e6" stroke="#cfc4aa" stroke-width="0.25" transform="rotate(123 965.2 266.1)"/><ellipse cx="968.8" cy="259.7" rx="1.9" ry="1.2" fill="#f7f2e6" stroke="#cfc4aa" stroke-width="0.25" transform="rotate(53 968.8 259.7)"/><ellipse cx="967.2" cy="263.1" rx="1.9" ry="1.2" fill="#faf7ee" stroke="#cfc4aa" stroke-width="0.25" transform="rotate(13 967.2 263.1)"/><ellipse cx="977.2" cy="266.8" rx="1.9" ry="1.2" fill="#faf7ee" stroke="#cfc4aa" stroke-width="0.25" transform="rotate(25 977.2 266.8)"/><ellipse cx="978.8" cy="259.1" rx="1.9" ry="1.2" fill="#f7f2e6" stroke="#cfc4aa" stroke-width="0.25" transform="rotate(53 978.8 259.1)"/><ellipse cx="967.4" cy="259.0" rx="1.9" ry="1.2" fill="#f1ead8" stroke="#cfc4aa" stroke-width="0.25" transform="rotate(88 967.4 259.0)"/><ellipse cx="964.5" cy="257.3" rx="1.9" ry="1.2" fill="#f7f2e6" stroke="#cfc4aa" stroke-width="0.25" transform="rotate(124 964.5 257.3)"/><ellipse cx="978.1" cy="261.5" rx="1.9" ry="1.2" fill="#f1ead8" stroke="#cfc4aa" stroke-width="0.25" transform="rotate(79 978.1 261.5)"/><ellipse cx="973.6" cy="263.6" rx="1.9" ry="1.2" fill="#f1ead8" stroke="#cfc4aa" stroke-width="0.25" transform="rotate(67 973.6 263.6)"/><ellipse cx="961.5" cy="263.0" rx="1.9" ry="1.2" fill="#faf7ee" stroke="#cfc4aa" stroke-width="0.25" transform="rotate(5 961.5 263.0)"/><ellipse cx="973.6" cy="272.1" rx="1.9" ry="1.2" fill="#f1ead8" stroke="#cfc4aa" stroke-width="0.25" transform="rotate(37 973.6 272.1)"/><ellipse cx="966.7" cy="252.0" rx="1.9" ry="1.2" fill="#faf7ee" stroke="#cfc4aa" stroke-width="0.25" transform="rotate(76 966.7 252.0)"/><ellipse cx="980.7" cy="260.4" rx="1.9" ry="1.2" fill="#faf7ee" stroke="#cfc4aa" stroke-width="0.25" transform="rotate(66 980.7 260.4)"/><ellipse cx="960.2" cy="260.6" rx="1.9" ry="1.2" fill="#f1ead8" stroke="#cfc4aa" stroke-width="0.25" transform="rotate(57 960.2 260.6)"/><ellipse cx="961.1" cy="259.8" rx="1.9" ry="1.2" fill="#f1ead8" stroke="#cfc4aa" stroke-width="0.25" transform="rotate(162 961.1 259.8)"/><ellipse cx="972.3" cy="271.6" rx="1.9" ry="1.2" fill="#f7f2e6" stroke="#cfc4aa" stroke-width="0.25" transform="rotate(61 972.3 271.6)"/><ellipse cx="974.5" cy="253.2" rx="1.9" ry="1.2" fill="#f7f2e6" stroke="#cfc4aa" stroke-width="0.25" transform="rotate(51 974.5 253.2)"/><ellipse cx="964.1" cy="261.1" rx="1.9" ry="1.2" fill="#f7f2e6" stroke="#cfc4aa" stroke-width="0.25" transform="rotate(7 964.1 261.1)"/><ellipse cx="972.5" cy="254.5" rx="1.9" ry="1.2" fill="#f7f2e6" stroke="#cfc4aa" stroke-width="0.25" transform="rotate(177 972.5 254.5)"/><ellipse cx="965.5" cy="257.8" rx="1.9" ry="1.2" fill="#faf7ee" stroke="#cfc4aa" stroke-width="0.25" transform="rotate(89 965.5 257.8)"/><ellipse cx="977.0" cy="259.9" rx="1.9" ry="1.2" fill="#f7f2e6" stroke="#cfc4aa" stroke-width="0.25" transform="rotate(26 977.0 259.9)"/><ellipse cx="971.3" cy="266.6" rx="1.9" ry="1.2" fill="#f7f2e6" stroke="#cfc4aa" stroke-width="0.25" transform="rotate(123 971.3 266.6)"/><ellipse cx="963.2" cy="254.5" rx="1.9" ry="1.2" fill="#f7f2e6" stroke="#cfc4aa" stroke-width="0.25" transform="rotate(122 963.2 254.5)"/><path d="M909 296 Q950 309 991 296" fill="none" stroke="#dcc294" stroke-width="1.2" opacity="0.7"/></g>
<!-- 71_ldpe.svg -->
<g fill="none" stroke="#4b3a33" stroke-width="3.6" stroke-linejoin="round"><path d="M1163.2 208.5 L1166.9 202.4 Q1169.7 199.1 1172.7 202.4 L1183.9 223.2"/><path d="M1188.7 229.5 L1190.9 234.4 Q1193.5 239.6 1187.6 239.6 L1166.0 239.6"/><path d="M1158.2 239.6 L1151.9 239.6 Q1145.6 239.6 1148.9 234.0 L1159.5 215.8"/></g><g fill="#4b3a33"><path d="M1186.7 227.5 L1180.0 224.7 L1188.0 221.0 Z"/><path d="M1161.0 240.3 L1166.6 235.9 L1166.6 244.4 Z"/><path d="M1162.1 211.5 L1155.5 214.2 L1162.7 217.7 Z"/></g><g font-family="Liberation Serif, serif" font-weight="700" fill="#4b3a33"><text x="1169.6" y="232.3" font-size="13.5" text-anchor="middle" stroke="#4b3a33" stroke-width="0.3">4</text><text x="1151.6" y="256.8" font-size="13" textLength="36.2" lengthAdjust="spacingAndGlyphs" stroke="#4b3a33" stroke-width="0.5">LDPE</text></g>
<!-- 80_consumers.svg -->
<g><ellipse cx="719.4" cy="177.1" rx="36.6" ry="3.0" fill="#ead2ca"/><ellipse cx="786.3" cy="176.6" rx="27.6" ry="3.7" fill="#ead2ca"/><polygon points="697.0,128.3 711.4,128.3 709.7,174.6 704.5,174.6 704.5,142.8 703.1,174.6 698.4,174.6" fill="#2f7fa8"/><ellipse cx="698.0" cy="175.7" rx="4.4" ry="1.5" fill="#5b2f20"/><ellipse cx="706.2" cy="175.4" rx="3.9" ry="1.4" fill="#5b2f20"/><path d="M695.2 101.4 L693.1 118.0 L691.5 129.0" fill="none" stroke="#f6c29c" stroke-width="3.6" stroke-linecap="round" stroke-linejoin="round"/><path d="M714.1 108.3 L716.6 122.1 L717.3 131.8" fill="none" stroke="#f6c29c" stroke-width="3.3" stroke-linecap="round" stroke-linejoin="round"/><path d="M694.8 101.4 Q695.2 95.2 701.4 95.2 L708.3 95.2 L713.3 98.0 Q713.6 115.2 713.1 127.9 Z" fill="#f0883e"/><polygon points="694.8,101.4 713.3,98.0 713.1,127.9 695.6,127.9" fill="#f0883e"/><ellipse cx="712.2" cy="103.1" rx="4.7" ry="8.0" fill="#f8c94c" transform="rotate(-8 712.2 103.1)"/><polygon points="701.4,91.1 706.9,91.1 707.2,96.6 701.1,96.6" fill="#f6c29c"/><ellipse cx="704.2" cy="86.2" rx="5.2" ry="6.9" fill="#f6c29c"/><path d="M698.7 87.6 Q696.2 77.9 702.1 74.9 Q708.3 73.1 711.4 79.3 Q711.8 83.5 709.4 87.6 Q708.3 80.7 704.2 80.4 Q700.0 80.7 698.7 87.6 Z" fill="#a14e3c"/><path d="M680.7 144.9 Q689.7 119.4 698.7 144.9" fill="none" stroke="#3c63b4" stroke-width="1.3"/><polygon points="682.1,142.8 684.2,134.5 694.5,134.5 696.6,142.8" fill="#bfe0f0"/><ellipse cx="688.3" cy="137.3" rx="3.6" ry="4.1" fill="#5fb6e2"/><polygon points="680.7,142.8 680.7,138.7 683.2,138.7 683.2,142.8" fill="#3a3a6a"/><polygon points="691.1,141.4 691.1,142.8 697.3,142.8 697.3,141.2" fill="#8a4a2a"/><polygon points="697.3,137.3 700.0,137.3 700.3,144.2 697.0,144.2" fill="#d23a3a"/><polygon points="673.1,145.3 704.5,145.3 703.9,148.3 673.7,148.3" fill="#d8333c"/><polygon points="675.5,148.3 702.2,148.3 698.4,159.7 679.3,159.7" fill="#dc3a42"/><path d="M680.7 150.4 L681.5 157.3" fill="none" stroke="#7a2a3a" stroke-width="1.1" stroke-linecap="butt" stroke-linejoin="round"/><path d="M684.0 150.4 L684.8 157.3" fill="none" stroke="#7a2a3a" stroke-width="1.1" stroke-linecap="butt" stroke-linejoin="round"/><path d="M687.3 150.4 L688.2 157.3" fill="none" stroke="#7a2a3a" stroke-width="1.1" stroke-linecap="butt" stroke-linejoin="round"/><path d="M690.6 150.4 L691.5 157.3" fill="none" stroke="#7a2a3a" stroke-width="1.1" stroke-linecap="butt" stroke-linejoin="round"/><path d="M694.0 150.4 L694.8 157.3" fill="none" stroke="#7a2a3a" stroke-width="1.1" stroke-linecap="butt" stroke-linejoin="round"/><path d="M697.3 150.4 L698.1 157.3" fill="none" stroke="#7a2a3a" stroke-width="1.1" stroke-linecap="butt" stroke-linejoin="round"/><ellipse cx="691.5" cy="129.0" rx="1.9" ry="2.2" fill="#f6c29c"/><polygon points="722.8,124.2 739.8,124.2 739.0,142.8 731.8,175.3 727.9,174.6 731.1,156.6 721.4,170.4 718.7,167.7 727.9,148.3" fill="#2b56a9"/><polygon points="722.8,124.2 739.8,124.2 739.2,137.3 724.9,137.3" fill="#2b56a9"/><ellipse cx="720.7" cy="171.5" rx="1.8" ry="3.9" fill="#1f2f4c" transform="rotate(25 720.7 171.5)"/><ellipse cx="731.8" cy="175.7" rx="4.1" ry="1.2" fill="#1f2f4c"/><path d="M739.4 111.4 L748.3 115.5 L756.6 117.2" fill="none" stroke="#f6c29c" stroke-width="2.8" stroke-linecap="round" stroke-linejoin="round"/><path d="M721.8 104.2 L720.7 115.2 L729.0 124.9 L734.5 127.9" fill="none" stroke="#f6c29c" stroke-width="3.0" stroke-linecap="round" stroke-linejoin="round"/><path d="M720.5 105.6 Q720.7 98.7 727.6 98.0 L734.5 98.0 Q740.8 99.3 740.3 106.9 L739.0 124.6 L723.2 124.6 Z" fill="#f8c74a"/><polygon points="729.7,92.4 735.2,92.4 735.2,100.0 729.7,100.0" fill="#f6c29c"/><ellipse cx="733.6" cy="87.6" rx="4.4" ry="6.5" fill="#f6c29c"/><path d="M723.8 87.6 Q723.8 77.7 731.1 76.8 Q738.4 77.3 738.1 88.3 L737.3 95.2 Q736.8 86.2 734.5 82.1 Q731.1 82.1 729.7 87.6 Q731.1 95.9 730.7 101.4 L727.4 103.9 Q722.8 100.0 723.8 87.6 Z" fill="#8e4a3a"/><path d="M756.6 117.2 L760.5 118.0 L762.8 148.3 L803.6 148.3 L806.3 124.9" fill="none" stroke="#fdfdfd" stroke-width="1.0" stroke-linecap="round" stroke-linejoin="round"/><path d="M764.9 148.3 L769.1 169.1 L803.6 169.1" fill="none" stroke="#fdfdfd" stroke-width="0.8" stroke-linecap="round" stroke-linejoin="round"/><polygon points="760.4,125.2 770.4,124.6 770.7,133.9 760.8,133.9" fill="#ebb584"/><polygon points="770.4,127.9 777.6,127.4 778.2,133.9 770.7,133.9" fill="#f4cf5a"/><polygon points="777.3,124.3 779.8,123.8 780.4,131.8 777.3,131.8" fill="#2a3a7a"/><polygon points="782.9,123.8 785.9,123.8 786.4,131.8 782.6,131.8" fill="#2a2a5a"/><ellipse cx="792.5" cy="125.2" rx="4.4" ry="2.5" fill="#f0c8a0"/><polygon points="787.7,126.3 797.4,126.3 797.8,134.5 787.3,134.5" fill="#f4d6b8"/><polygon points="799.4,130.4 803.6,129.7 803.8,141.4 799.1,141.7" fill="#efc090"/><polygon points="760.1,133.9 804.3,132.9 803.3,144.5 761.5,144.9" fill="#d9363e"/><polygon points="764.6,130.7 774.6,130.1 775.3,143.9 765.2,144.5" fill="#52b2da"/><polygon points="767.0,137.3 772.5,137.3 772.5,141.4 767.0,141.4" fill="#e8f4fa"/><polygon points="777.3,131.8 786.7,131.5 787.0,135.6 777.6,135.9" fill="#5ab8de"/><polygon points="773.5,136.6 779.8,136.3 780.1,143.9 773.7,144.2" fill="#c8323a"/><polygon points="774.9,138.0 778.7,138.0 778.7,142.6 774.9,142.6" fill="#f3d9d9"/><polygon points="786.7,134.5 794.2,134.3 794.5,144.5 787.0,144.8" fill="#a8583a"/><polygon points="786.7,136.8 794.2,136.5 794.2,139.0 786.7,139.2" fill="#f0e0d0"/><polygon points="796.0,134.5 798.0,134.3 796.7,144.5 794.6,144.5" fill="#f8f0f0"/><circle cx="771.1" cy="173.6" r="3.5" fill="#2e3648"/><circle cx="771.1" cy="173.3" r="1.5" fill="#9aa6bc"/><circle cx="779.8" cy="173.6" r="3.5" fill="#2e3648"/><circle cx="779.8" cy="173.3" r="1.5" fill="#9aa6bc"/><circle cx="791.1" cy="173.6" r="3.5" fill="#2e3648"/><circle cx="791.1" cy="173.3" r="1.5" fill="#9aa6bc"/><circle cx="801.5" cy="173.6" r="3.5" fill="#2e3648"/><circle cx="801.5" cy="173.3" r="1.5" fill="#9aa6bc"/></g>
<!-- 90_shirt.svg -->
<defs><linearGradient id="btg" gradientUnits="userSpaceOnUse" x1="0" y1="175" x2="0" y2="294"><stop offset="0" stop-color="#b4defa"/><stop offset="0.35" stop-color="#8fcdf8"/><stop offset="0.7" stop-color="#4fb0f6"/><stop offset="1" stop-color="#2a9df4"/></linearGradient><radialGradient id="shg" cx="0.75" cy="0.25" r="0.6"><stop offset="0" stop-color="#fdd58a"/><stop offset="1" stop-color="#fbbc4c"/></radialGradient></defs><g fill="none" stroke="url(#btg)" stroke-width="1.9" stroke-linecap="round" stroke-linejoin="round"><rect x="409.1" y="175.3" width="17.2" height="7.0" rx="1.6"/><path d="M411.4 182.3 C410.3 191.8 398.8 196.6 398.3 207.8 " /><path d="M411.4 182.3 C410.3 191.8 398.8 197.4 398.2 207.8 L397.8 222.1 C397.2 225.3 397.2 228.5 397.8 231.7 L397.8 282.6 C397.8 287.4 401.5 293.0 407.1 293.0 Q412.6 293.4 413.8 289.8 Q417.4 285.0 421.1 289.8 L421.7 293.0 Q422.2 293.4 427.8 293.0 Q436.5 292.2 437.0 282.6 C437.0 282.6 437.0 282.6 437.0 282.6 L437.0 231.7 C437.6 228.5 437.6 225.3 437.0 222.1 L436.7 207.8 C436.1 197.4 424.9 191.8 424.1 182.3"/><path d="M398.8 207.8 Q403.5 203.6 408.2 207.8 Q412.9 211.9 417.6 207.8 Q422.3 203.6 427.0 207.8 Q431.7 211.9 436.4 207.8"/><path d="M398.8 214.9 Q403.5 210.8 408.2 214.9 Q412.9 219.1 417.6 214.9 Q422.3 210.8 427.0 214.9 Q431.7 219.1 436.4 214.9"/><path d="M398.8 242.8 Q403.5 238.7 408.2 242.8 Q412.9 246.9 417.6 242.8 Q422.3 238.7 427.0 242.8 Q431.7 246.9 436.4 242.8"/><path d="M398.8 250.0 Q403.5 245.8 408.2 250.0 Q412.9 254.1 417.6 250.0 Q422.3 245.8 427.0 250.0 Q431.7 254.1 436.4 250.0"/><path d="M398.8 257.1 Q403.5 253.0 408.2 257.1 Q412.9 261.3 417.6 257.1 Q422.3 253.0 427.0 257.1 Q431.7 261.3 436.4 257.1"/><path d="M398.8 264.3 Q403.5 260.2 408.2 264.3 Q412.9 268.4 417.6 264.3 Q422.3 260.2 427.0 264.3 Q431.7 268.4 436.4 264.3"/><path d="M398.8 271.5 Q403.5 267.3 408.2 271.5 Q412.9 275.6 417.6 271.5 Q422.3 267.3 427.0 271.5 Q431.7 275.6 436.4 271.5"/><path d="M426.2 193.8 Q429.7 196.9 431.0 201.7"/><path d="M432.9 219.2 L432.9 234.5"/><path d="M432.9 280.2 Q431.8 285.8 428.6 288.2"/></g><path d="M480.0 186.8 L469.2 188.3 L458.0 192.6 L439.2 224.5 L452.9 234.5 L464.7 220.5 L464.7 289.3 Q497.8 298.2 531.0 289.3 L531.0 220.5 L542.7 234.5 L556.4 224.5 L537.6 192.6 L526.5 188.3 L515.7 186.8 Z" fill="url(#shg)" stroke="#151515" stroke-width="2.9" stroke-linejoin="round"/><path d="M477.1 189.0 L469.2 190.3 L459.0 193.8 L441.5 224.3 L452.8 232.5 L464.2 218.3 Q467.3 199.8 479.0 190.3 Z" fill="#fdfdfd"/><path d="M466.1 224.5 L473.9 223.7 Q481.0 223.7 481.1 231.7 L481.1 282.9 L466.1 282.9 Z" fill="#fdfdfd"/><path d="M466.1 282.9 Q497.8 289.3 529.7 282.3 L529.7 288.3 Q497.8 296.3 466.1 288.3 Z" fill="#fdfdfd"/><path d="M489.9 282.9 Q510.6 286.1 530.5 281.3" fill="none" stroke="#151515" stroke-width="2.4"/><path d="M466.8 281.8 L489.9 282.9" stroke="#d8d8d8" stroke-width="2.2"/><path d="M464.4 219.7 L464.9 225.3" stroke="#151515" stroke-width="2.6" stroke-linecap="round"/><path d="M480.0 187.1 L484.3 176.9 L511.5 176.9 L515.8 187.1 L507.4 201.1 L497.8 189.9 L488.3 201.1 Z" fill="#fdfdfd" stroke="#3b3b3b" stroke-width="2.9" stroke-linejoin="round"/><path d="M485.1 177.5 L497.8 189.9 L510.6 177.5" fill="none" stroke="#3b3b3b" stroke-width="2.6" stroke-linejoin="round"/><path d="M497.8 191.1 L497.8 206.5" stroke="#2b2b2b" stroke-width="3" stroke-linecap="round"/><circle cx="497.8" cy="215.1" r="2.1" fill="#1c1c1c"/>
<!-- 95_logo.svg -->
<polygon points="1376.1,788.2 1376.4,792.2 1375.7,796.1 1375.4,800.1 1374.4,804.0 1372.5,807.5 1370.9,811.1 1370.2,815.2 1367.5,818.3 1365.3,821.5 1363.7,825.3 1360.5,827.8 1357.9,830.9 1354.6,833.1 1351.5,835.7 1347.7,837.2 1344.6,839.6 1341.0,841.6 1337.1,842.5 1333.4,843.9 1329.4,844.6 1325.4,844.3 1321.5,845.6 1317.5,845.3 1313.6,844.6 1309.7,843.7 1305.6,844.0 1301.9,842.4 1298.0,841.4 1294.3,839.9 1290.8,837.9 1287.3,836.0 1284.5,833.0 1281.1,830.9 1278.5,827.8 1275.4,825.3 1272.9,822.1 1271.6,818.1 1269.6,814.8 1267.8,811.3 1265.3,808.0 1264.8,803.9 1263.6,800.1 1263.3,796.1 1262.6,792.2 1262.6,788.2 1262.8,784.3 1262.9,780.3 1263.6,776.4 1264.1,772.4 1265.7,768.7 1266.9,764.8 1268.7,761.2 1270.6,757.7 1273.2,754.6 1276.2,751.9 1278.1,748.3 1280.9,745.4 1284.0,742.9 1287.6,740.9 1290.8,738.6 1294.7,737.4 1298.0,735.0 1301.8,733.9 1305.8,733.2 1309.7,732.7 1313.5,731.1 1317.5,730.6 1321.5,731.8 1325.5,731.1 1329.4,732.2 1333.2,733.4 1337.0,734.3 1341.0,735.0 1344.7,736.5 1347.7,739.4 1351.4,740.8 1354.2,743.8 1357.8,745.7 1360.3,748.8 1363.6,751.3 1366.1,754.3 1367.8,758.0 1370.4,761.2 1371.3,765.2 1372.5,768.9 1374.4,772.5 1374.6,776.5 1375.5,780.4 1376.2,784.3" fill="#2f9e44"/><path d="M1352 741 Q1366 752 1372 768" fill="none" stroke="#f7f3f1" stroke-width="0.7" opacity="0.7"/><path d="M1283.4 761.9 L1287.2 777.8 L1291.3 764.9 L1295.3 777.2 L1299.1 760.5" fill="none" stroke="#fbfdf9" stroke-width="3.8" stroke-linecap="round" stroke-linejoin="round"/><path d="M1303.1 760.5 L1304.2 776.8" fill="none" stroke="#fbfdf9" stroke-width="3.8" stroke-linecap="round" stroke-linejoin="round"/><path d="M1311.3 759.0 L1312.5 775.8" fill="none" stroke="#fbfdf9" stroke-width="3.8" stroke-linecap="round" stroke-linejoin="round"/><path d="M1303.6 768.9 L1312.1 767.9" fill="none" stroke="#fbfdf9" stroke-width="3.8" stroke-linecap="round" stroke-linejoin="round"/><path d="M1321.0 759.7 C1315.0 760.5 1315.5 773.8 1321.7 773.4 C1327.7 772.8 1327.4 759.0 1321.0 759.7 Z" fill="none" stroke="#fbfdf9" stroke-width="3.8" stroke-linecap="round" stroke-linejoin="round"/><path d="M1331.8 758.2 L1333.0 773.4 L1339.8 772.2" fill="none" stroke="#fbfdf9" stroke-width="3.8" stroke-linecap="round" stroke-linejoin="round"/><path d="M1350.2 755.6 L1343.3 756.7 L1344.3 771.9 L1351.7 770.4" fill="none" stroke="#fbfdf9" stroke-width="3.8" stroke-linecap="round" stroke-linejoin="round"/><path d="M1343.7 764.2 L1349.6 763.3" fill="none" stroke="#fbfdf9" stroke-width="3.8" stroke-linecap="round" stroke-linejoin="round"/><path d="M1295.3 799.5 L1296.5 783.8 L1303.1 782.3" fill="none" stroke="#fbfdf9" stroke-width="3.8" stroke-linecap="round" stroke-linejoin="round"/><path d="M1296.2 791.7 L1301.7 790.6" fill="none" stroke="#fbfdf9" stroke-width="3.8" stroke-linecap="round" stroke-linejoin="round"/><path d="M1309.8 784.7 C1305.1 785.3 1305.4 795.4 1310.4 795.1 C1315.5 794.6 1314.9 784.1 1309.8 784.7 Z" fill="none" stroke="#fbfdf9" stroke-width="3.8" stroke-linecap="round" stroke-linejoin="round"/><path d="M1323.9 783.5 C1318.7 784.1 1319.2 794.8 1324.4 794.3 C1329.6 793.9 1329.1 782.9 1323.9 783.5 Z" fill="none" stroke="#fbfdf9" stroke-width="3.8" stroke-linecap="round" stroke-linejoin="round"/><path d="M1335.1 782.3 L1336.0 797.2 C1344.0 796.9 1344.7 783.5 1335.1 782.3 C1335.1 782.3 1335.1 782.3 1335.1 782.3" fill="none" stroke="#fbfdf9" stroke-width="3.8" stroke-linecap="round" stroke-linejoin="round"/><path d="M1314.0 798.6 Q1317.3 800.4 1321.0 798.3" fill="none" stroke="#fbfdf9" stroke-width="1.2" stroke-linecap="round" stroke-linejoin="round"/><path d="M1295.3 805.0 L1287.8 806.1 L1289.0 824.3 L1297.2 823.0" fill="none" stroke="#fbfdf9" stroke-width="3.8" stroke-linecap="round" stroke-linejoin="round"/><path d="M1288.7 814.7 L1294.7 813.9" fill="none" stroke="#fbfdf9" stroke-width="3.8" stroke-linecap="round" stroke-linejoin="round"/><path d="M1301.2 823.9 L1307.2 805.5 L1313.1 822.9" fill="none" stroke="#fbfdf9" stroke-width="3.8" stroke-linecap="round" stroke-linejoin="round"/><path d="M1303.6 817.7 L1310.7 816.9" fill="none" stroke="#fbfdf9" stroke-width="3.8" stroke-linecap="round" stroke-linejoin="round"/><path d="M1317.3 822.9 L1316.5 805.0 M1316.5 805.0 C1326.2 803.5 1326.2 813.9 1317.3 814.4 L1327.7 823.3" fill="none" stroke="#fbfdf9" stroke-width="3.8" stroke-linecap="round" stroke-linejoin="round"/><path d="M1326.9 804.3 L1339.2 802.8" fill="none" stroke="#fbfdf9" stroke-width="3.8" stroke-linecap="round" stroke-linejoin="round"/><path d="M1333.3 803.7 L1334.3 822.4" fill="none" stroke="#fbfdf9" stroke-width="3.8" stroke-linecap="round" stroke-linejoin="round"/><path d="M1342.5 803.5 L1343.4 822.4" fill="none" stroke="#fbfdf9" stroke-width="3.8" stroke-linecap="round" stroke-linejoin="round"/><path d="M1350.7 802.5 L1351.7 821.8" fill="none" stroke="#fbfdf9" stroke-width="3.8" stroke-linecap="round" stroke-linejoin="round"/><path d="M1343.1 813.2 L1351.1 812.2" fill="none" stroke="#fbfdf9" stroke-width="3.8" stroke-linecap="round" stroke-linejoin="round"/><circle cx="1357.7" cy="820.9" r="2.3" fill="none" stroke="#fbfdf9" stroke-width="0.7"/><circle cx="1357.7" cy="820.9" r="0.8" fill="#fbfdf9"/><path d="M1317.3 844.4 C1305.4 851.8 1290.5 850.3 1280.1 842.9 C1271.9 837.0 1267.5 826.6 1276.4 822.4 C1284.6 819.9 1291.3 828.1 1286.8 836.2 C1283.1 842.2 1275.7 841.4 1271.9 839.2" fill="none" stroke="#4a3228" stroke-width="1.5" stroke-dasharray="2.2 2.6"/><path d="M1271.9 839.2 Q1262.3 839.9 1252.6 831.0" fill="none" stroke="#d9cfc8" stroke-width="0.8" stroke-dasharray="2 2"/><ellipse cx="1319.2" cy="833.2" rx="2.4" ry="4.2" fill="#fdfdfd" stroke="#3a3a3a" stroke-width="0.6" transform="rotate(-40 1319.2 833.2)"/><ellipse cx="1331.2" cy="844.7" rx="2.4" ry="4.2" fill="#fdfdfd" stroke="#3a3a3a" stroke-width="0.6" transform="rotate(-55 1331.2 844.7)"/><circle cx="1324.7" cy="839.2" r="5" fill="#f5cf2a" stroke="#3a3018" stroke-width="0.7"/><path d="M1321.2 836.7 Q1324.7 838.2 1326.2 834.7 M1322.2 842.2 Q1326.2 841.7 1328.7 837.7" fill="none" stroke="#3a3018" stroke-width="1"/><circle cx="1319.2" cy="843.2" r="1.4" fill="#2a2218"/>
<g fill="none" stroke="#4b3a33" stroke-width="5.2" stroke-linejoin="miter" stroke-miterlimit="6"><path id="carr" d="M552.7 506.0 A157 157 0 0 1 832.0 375.7 L845.6 368.1 Q856.2 400.7 843.8 431.3 Q825.4 409.3 798.6 402.0 L809.8 391.8 A129.6 129.6 0 0 0 579.0 498.5 L561.4 481.6 Z"/><use href="#carr" transform="rotate(180 705 468)"/></g>
<path d="M588.3 189.4 L625.9 176.4" fill="none" stroke="#4b3a33" stroke-width="3.5"/><path d="M642.3 171.5 L623.3 167.9 L628.5 184.9 Z" fill="#4b3a33"/><path d="M841.2 191.2 Q862.0 199.0 876.5 209.7" fill="none" stroke="#4b3a33" stroke-width="3.5"/><path d="M891.7 218.3 L880.9 201.9 L872.0 217.5 Z" fill="#4b3a33"/><path d="M981.2 311.5 Q993.0 333.0 999.1 346.8" fill="none" stroke="#4b3a33" stroke-width="3.5"/><path d="M1006.4 362.4 L1007.5 343.1 L990.8 350.5 Z" fill="#4b3a33"/><path d="M1028.4 481.9 Q1028.2 505.0 1025.8 521.0" fill="none" stroke="#4b3a33" stroke-width="3.5"/><path d="M1024.0 538.8 L1016.5 520.1 L1035.0 522.0 Z" fill="#4b3a33"/><path d="M936.1 703.4 Q920.0 718.0 906.5 729.6" fill="none" stroke="#4b3a33" stroke-width="3.5"/><path d="M892.7 740.7 L900.8 722.5 L912.3 736.8 Z" fill="#4b3a33"/><path d="M731.3 795.5 Q712.0 796.6 692.1 795.8" fill="none" stroke="#4b3a33" stroke-width="3.5"/><path d="M674.1 795.3 L692.1 786.6 L692.1 805.0 Z" fill="#4b3a33"/><path d="M515.4 728.6 L486.8 701.8" fill="none" stroke="#4b3a33" stroke-width="3.5"/><path d="M474.0 689.1 L493.3 695.3 L480.3 708.2 Z" fill="#4b3a33"/><path d="M402.4 546.9 L397.0 507.1" fill="none" stroke="#4b3a33" stroke-width="3.5"/><path d="M395.6 490.8 L387.9 508.1 L406.1 506.0 Z" fill="#4b3a33"/><path d="M416.0 367.1 Q424.0 347.0 433.1 331.7" fill="none" stroke="#4b3a33" stroke-width="3.5"/><path d="M441.3 316.6 L425.2 327.3 L441.1 336.1 Z" fill="#4b3a33"/>
<clipPath id="lc6754_434"><rect x="672.4" y="43.40" width="101.6" height="16.60"/></clipPath><g clip-path="url(#lc6754_434)" fill="none" stroke="#4b3a33" stroke-linejoin="miter" stroke-miterlimit="3"><path d="M681.76 49.38L681.76 47.24A2.46 2.43 0 0 0 676.83 47.24L676.83 56.16A2.46 2.43 0 0 0 681.76 56.16L681.76 54.02" stroke-width="2.82"/><path d="M692.30 51.70L692.30 47.41A2.63 2.60 0 0 0 687.04 47.41L687.04 55.99A2.63 2.60 0 0 0 692.30 55.99Z" stroke-width="2.82"/><path d="M697.58 43.40L697.58 60.00" stroke-width="2.82"/><path d="M703.69 43.40L703.69 60.00" stroke-width="2.82"/><path d="M697.75 43.07L703.52 60.33" stroke-width="2.54"/><path d="M713.90 49.04L713.90 47.24A2.46 2.43 0 0 0 708.97 47.24L708.97 49.04C708.97 51.70 713.90 51.70 713.90 54.69L713.90 56.16A2.46 2.43 0 0 1 708.97 56.16L708.97 54.36" stroke-width="2.82"/><path d="M719.18 43.40L719.18 55.95A2.67 2.64 0 0 0 724.53 55.95L724.53 43.40" stroke-width="2.82"/><path d="M729.81 43.40L729.81 60.00" stroke-width="2.82"/><path d="M738.47 43.40L738.47 60.00" stroke-width="2.82"/><path d="M729.98 43.07L734.14 60.00" stroke-width="2.31"/><path d="M738.30 43.07L734.14 60.00" stroke-width="2.31"/><path d="M743.75 43.40L743.75 60.00" stroke-width="2.82"/><path d="M743.75 44.81L749.91 44.81" stroke-width="2.82"/><path d="M743.75 51.45L749.24 51.45" stroke-width="2.82"/><path d="M743.75 58.59L749.91 58.59" stroke-width="2.82"/><path d="M753.76 43.40L753.76 60.00" stroke-width="2.82"/><path d="M753.76 44.81L756.67 44.81A2.52 2.49 0 0 1 759.19 47.30L759.19 49.96A2.52 2.49 0 0 1 756.67 52.45L753.76 52.45" stroke-width="2.82"/><path d="M757.34 52.12C759.19 52.95 759.19 54.44 759.36 56.68L759.45 60.00" stroke-width="2.82"/><path d="M769.57 49.04L769.57 47.24A2.46 2.43 0 0 0 764.64 47.24L764.64 49.04C764.64 51.70 769.57 51.70 769.57 54.69L769.57 56.16A2.46 2.43 0 0 1 764.64 56.16L764.64 54.36" stroke-width="2.82"/></g><clipPath id="lc2493_1990"><rect x="246.3" y="199.00" width="94.1" height="16.60"/></clipPath><g clip-path="url(#lc2493_1990)" fill="none" stroke="#4b3a33" stroke-linejoin="miter" stroke-miterlimit="3"><path d="M250.68 199.00L250.68 215.60" stroke-width="2.82"/><path d="M250.68 200.41L253.16 200.41A2.61 2.66 0 0 1 255.76 203.07L255.76 205.89A2.61 2.66 0 0 1 253.16 208.54L250.68 208.54" stroke-width="2.82"/><path d="M260.88 199.00L260.88 215.60" stroke-width="2.82"/><path d="M260.88 200.41L263.69 200.41A2.44 2.49 0 0 1 266.14 202.90L266.14 205.56A2.44 2.49 0 0 1 263.69 208.05L260.88 208.05" stroke-width="2.82"/><path d="M264.34 207.72C266.14 208.54 266.14 210.04 266.30 212.28L266.38 215.60" stroke-width="2.82"/><path d="M276.51 207.30L276.51 203.01A2.55 2.60 0 0 0 271.41 203.01L271.41 211.59A2.55 2.60 0 0 0 276.51 211.59Z" stroke-width="2.82"/><path d="M286.39 204.98L286.39 202.84A2.39 2.43 0 0 0 281.62 202.84L281.62 211.76A2.39 2.43 0 0 0 286.39 211.76L286.39 209.62" stroke-width="2.82"/><path d="M291.50 199.00L291.50 215.60" stroke-width="2.82"/><path d="M291.50 200.41L297.46 200.41" stroke-width="2.82"/><path d="M291.50 207.05L296.81 207.05" stroke-width="2.82"/><path d="M291.50 214.19L297.46 214.19" stroke-width="2.82"/><path d="M305.96 204.64L305.96 202.84A2.39 2.43 0 0 0 301.19 202.84L301.19 204.64C301.19 207.30 305.96 207.30 305.96 210.29L305.96 211.76A2.39 2.43 0 0 1 301.19 211.76L301.19 209.96" stroke-width="2.82"/><path d="M315.84 204.64L315.84 202.84A2.39 2.43 0 0 0 311.07 202.84L311.07 204.64C311.07 207.30 315.84 207.30 315.84 210.29L315.84 211.76A2.39 2.43 0 0 1 311.07 211.76L311.07 209.96" stroke-width="2.82"/><path d="M320.96 199.00L320.96 215.60" stroke-width="2.82"/><path d="M320.96 200.41L326.91 200.41" stroke-width="2.82"/><path d="M320.96 207.05L326.26 207.05" stroke-width="2.82"/><path d="M320.96 214.19L326.91 214.19" stroke-width="2.82"/><path d="M330.64 199.00L330.64 215.60" stroke-width="2.82"/><path d="M330.64 200.41L333.25 200.41A2.77 2.82 0 0 1 336.02 203.23L336.02 211.37A2.77 2.82 0 0 1 333.25 214.19L330.64 214.19" stroke-width="2.82"/></g><clipPath id="lc2158_2280"><rect x="212.8" y="228.00" width="166.4" height="16.60"/></clipPath><g clip-path="url(#lc2158_2280)" fill="none" stroke="#4b3a33" stroke-linejoin="miter" stroke-miterlimit="3"><path d="M217.52 228.00L217.52 244.60" stroke-width="2.82"/><path d="M222.97 228.00L222.97 244.60" stroke-width="2.82"/><path d="M228.88 228.00L228.88 244.60" stroke-width="2.82"/><path d="M223.13 227.67L228.72 244.93" stroke-width="2.54"/><path d="M232.12 229.41L240.22 229.41" stroke-width="2.82"/><path d="M236.17 228.00L236.17 244.60" stroke-width="2.82"/><path d="M248.56 236.30L248.56 232.01A2.55 2.60 0 0 0 243.46 232.01L243.46 240.59A2.55 2.60 0 0 0 248.56 240.59Z" stroke-width="2.82"/><path d="M258.92 228.00L258.92 244.60" stroke-width="2.82"/><path d="M264.84 228.00L264.84 244.60" stroke-width="2.82"/><path d="M259.08 227.67L264.67 244.93" stroke-width="2.54"/><path d="M269.95 228.00L269.95 244.60" stroke-width="2.82"/><path d="M269.95 229.41L275.91 229.41" stroke-width="2.82"/><path d="M269.95 236.05L275.26 236.05" stroke-width="2.82"/><path d="M269.95 243.19L275.91 243.19" stroke-width="2.82"/><path d="M279.48 227.67L282.03 245.10L284.12 228.00L286.20 245.10L288.75 227.67" stroke-width="2.43"/><path d="M298.95 228.00L298.95 244.60" stroke-width="2.82"/><path d="M298.95 229.41L301.42 229.41A2.61 2.66 0 0 1 304.03 232.07L304.03 234.89A2.61 2.66 0 0 1 301.42 237.54L298.95 237.54" stroke-width="2.82"/><path d="M309.15 228.00L309.15 244.60" stroke-width="2.82"/><path d="M309.15 229.41L311.97 229.41A2.44 2.49 0 0 1 314.41 231.90L314.41 234.56A2.44 2.49 0 0 1 311.97 237.05L309.15 237.05" stroke-width="2.82"/><path d="M312.62 236.72C314.41 237.54 314.41 239.04 314.57 241.28L314.65 244.60" stroke-width="2.82"/><path d="M324.79 236.30L324.79 232.01A2.55 2.60 0 0 0 319.69 232.01L319.69 240.59A2.55 2.60 0 0 0 324.79 240.59Z" stroke-width="2.82"/><path d="M329.90 228.00L329.90 244.60" stroke-width="2.82"/><path d="M329.90 229.41L332.51 229.41A2.77 2.82 0 0 1 335.28 232.23L335.28 240.37A2.77 2.82 0 0 1 332.51 243.19L329.90 243.19" stroke-width="2.82"/><path d="M340.39 228.00L340.39 240.55A2.59 2.64 0 0 0 345.57 240.55L345.57 228.00" stroke-width="2.82"/><path d="M355.46 233.98L355.46 231.84A2.39 2.43 0 0 0 350.69 231.84L350.69 240.76A2.39 2.43 0 0 0 355.46 240.76L355.46 238.62" stroke-width="2.82"/><path d="M358.70 229.41L366.80 229.41" stroke-width="2.82"/><path d="M362.75 228.00L362.75 244.60" stroke-width="2.82"/><path d="M374.82 233.64L374.82 231.84A2.39 2.43 0 0 0 370.04 231.84L370.04 233.64C370.04 236.30 374.82 236.30 374.82 239.29L374.82 240.76A2.39 2.43 0 0 1 370.04 240.76L370.04 238.96" stroke-width="2.82"/></g><clipPath id="lc2476_3922"><rect x="244.6" y="392.30" width="73.7" height="16.60"/></clipPath><g clip-path="url(#lc2476_3922)" fill="none" stroke="#4b3a33" stroke-linejoin="miter" stroke-miterlimit="3"><path d="M249.02 392.30L249.02 408.90" stroke-width="2.82"/><path d="M257.59 392.30L257.59 408.90" stroke-width="2.82"/><path d="M249.18 391.97L253.30 408.90" stroke-width="2.31"/><path d="M257.43 391.97L253.30 408.90" stroke-width="2.31"/><path d="M262.82 392.30L262.82 408.90" stroke-width="2.82"/><path d="M262.82 393.71L268.92 393.71" stroke-width="2.82"/><path d="M262.82 400.35L268.25 400.35" stroke-width="2.82"/><path d="M262.82 407.49L268.92 407.49" stroke-width="2.82"/><path d="M272.73 392.30L272.73 408.90" stroke-width="2.82"/><path d="M272.73 407.49L278.11 407.49" stroke-width="2.82"/><path d="M280.01 393.71L288.29 393.71" stroke-width="2.82"/><path d="M284.15 392.30L284.15 408.90" stroke-width="2.82"/><path d="M291.94 392.30L291.94 408.90" stroke-width="2.82"/><path d="M297.51 392.30L297.51 408.90" stroke-width="2.82"/><path d="M303.56 392.30L303.56 408.90" stroke-width="2.82"/><path d="M297.68 391.97L303.39 409.23" stroke-width="2.54"/><path d="M313.88 398.28L313.88 396.25A2.55 2.54 0 0 0 308.79 396.25L308.79 404.95A2.55 2.54 0 0 0 313.88 404.95L313.88 401.10L311.50 401.10" stroke-width="2.82"/></g><clipPath id="lc2680_4213"><rect x="265.0" y="421.30" width="36.6" height="16.60"/></clipPath><g clip-path="url(#lc2680_4213)" fill="none" stroke="#4b3a33" stroke-linejoin="miter" stroke-miterlimit="3"><path d="M269.35 437.90L271.92 420.80" stroke-width="2.60"/><path d="M274.99 437.90L272.42 420.80" stroke-width="2.60"/><path d="M269.97 434.41L274.37 434.41" stroke-width="2.03"/><path d="M280.20 421.30L280.20 437.90" stroke-width="2.82"/><path d="M286.32 421.30L286.32 437.90" stroke-width="2.82"/><path d="M280.37 420.97L286.15 438.23" stroke-width="2.54"/><path d="M291.61 421.30L291.61 437.90" stroke-width="2.82"/><path d="M291.61 422.71L294.30 422.71A2.86 2.82 0 0 1 297.17 425.53L297.17 433.67A2.86 2.82 0 0 1 294.30 436.49L291.61 436.49" stroke-width="2.82"/></g><clipPath id="lc2259_4502"><rect x="222.9" y="450.20" width="122.4" height="16.60"/></clipPath><g clip-path="url(#lc2259_4502)" fill="none" stroke="#4b3a33" stroke-linejoin="miter" stroke-miterlimit="3"><path d="M227.27 450.20L227.27 466.80" stroke-width="2.82"/><path d="M227.27 451.61L229.73 451.61A2.59 2.66 0 0 1 232.32 454.27L232.32 457.09A2.59 2.66 0 0 1 229.73 459.75L227.27 459.75" stroke-width="2.82"/><path d="M237.40 450.20L237.40 466.80" stroke-width="2.82"/><path d="M237.40 451.61L243.32 451.61" stroke-width="2.82"/><path d="M237.40 458.25L242.67 458.25" stroke-width="2.82"/><path d="M237.40 465.39L243.32 465.39" stroke-width="2.82"/><path d="M247.02 450.20L247.02 466.80" stroke-width="2.82"/><path d="M247.02 465.39L252.24 465.39" stroke-width="2.82"/><path d="M255.95 450.20L255.95 466.80" stroke-width="2.82"/><path d="M255.95 465.39L261.17 465.39" stroke-width="2.82"/><path d="M264.87 450.20L264.87 466.80" stroke-width="2.82"/><path d="M264.87 451.61L270.79 451.61" stroke-width="2.82"/><path d="M264.87 458.25L270.14 458.25" stroke-width="2.82"/><path d="M264.87 465.39L270.79 465.39" stroke-width="2.82"/><path d="M272.63 451.61L280.67 451.61" stroke-width="2.82"/><path d="M276.65 450.20L276.65 466.80" stroke-width="2.82"/><path d="M284.22 450.20L284.22 466.80" stroke-width="2.82"/><path d="M294.37 455.84L294.37 454.04A2.37 2.43 0 0 0 289.63 454.04L289.63 455.84C289.63 458.50 294.37 458.50 294.37 461.49L294.37 462.96A2.37 2.43 0 0 1 289.63 462.96L289.63 461.16" stroke-width="2.82"/><path d="M299.37 466.80L301.83 449.70" stroke-width="2.60"/><path d="M304.78 466.80L302.32 449.70" stroke-width="2.60"/><path d="M299.97 463.31L304.18 463.31" stroke-width="2.03"/><path d="M307.92 451.61L315.96 451.61" stroke-width="2.82"/><path d="M311.94 450.20L311.94 466.80" stroke-width="2.82"/><path d="M319.51 450.20L319.51 466.80" stroke-width="2.82"/><path d="M329.98 458.50L329.98 454.21A2.53 2.60 0 0 0 324.92 454.21L324.92 462.79A2.53 2.60 0 0 0 329.98 462.79Z" stroke-width="2.82"/><path d="M335.06 450.20L335.06 466.80" stroke-width="2.82"/><path d="M340.93 450.20L340.93 466.80" stroke-width="2.82"/><path d="M335.22 449.87L340.76 467.13" stroke-width="2.54"/></g><clipPath id="lc1954_6181"><rect x="192.4" y="618.10" width="94.0" height="16.60"/></clipPath><g clip-path="url(#lc1954_6181)" fill="none" stroke="#4b3a33" stroke-linejoin="miter" stroke-miterlimit="3"><path d="M201.66 623.74L201.66 621.94A2.42 2.43 0 0 0 196.81 621.94L196.81 623.74C196.81 626.40 201.66 626.40 201.66 629.39L201.66 630.86A2.42 2.43 0 0 1 196.81 630.86L196.81 629.06" stroke-width="2.82"/><path d="M206.85 618.10L206.85 634.70" stroke-width="2.82"/><path d="M212.78 618.10L212.78 634.70" stroke-width="2.82"/><path d="M206.85 626.15L212.78 626.15" stroke-width="2.82"/><path d="M217.98 618.10L217.98 634.70" stroke-width="2.82"/><path d="M217.98 619.51L220.84 619.51A2.48 2.49 0 0 1 223.32 622.00L223.32 624.66A2.48 2.49 0 0 1 220.84 627.15L217.98 627.15" stroke-width="2.82"/><path d="M221.50 626.82C223.32 627.64 223.32 629.14 223.49 631.38L223.57 634.70" stroke-width="2.82"/><path d="M228.68 618.10L228.68 634.70" stroke-width="2.82"/><path d="M228.68 619.51L234.74 619.51" stroke-width="2.82"/><path d="M228.68 626.15L234.08 626.15" stroke-width="2.82"/><path d="M228.68 633.29L234.74 633.29" stroke-width="2.82"/><path d="M238.53 618.10L238.53 634.70" stroke-width="2.82"/><path d="M238.53 619.51L241.18 619.51A2.81 2.82 0 0 1 243.99 622.33L243.99 630.47A2.81 2.82 0 0 1 241.18 633.29L238.53 633.29" stroke-width="2.82"/><path d="M249.19 618.10L249.19 634.70" stroke-width="2.82"/><path d="M249.19 619.51L251.84 619.51A2.81 2.82 0 0 1 254.65 622.33L254.65 630.47A2.81 2.82 0 0 1 251.84 633.29L249.19 633.29" stroke-width="2.82"/><path d="M260.19 618.10L260.19 634.70" stroke-width="2.82"/><path d="M265.72 618.10L265.72 634.70" stroke-width="2.82"/><path d="M271.73 618.10L271.73 634.70" stroke-width="2.82"/><path d="M265.89 617.77L271.57 635.03" stroke-width="2.54"/><path d="M281.99 624.08L281.99 622.05A2.53 2.54 0 0 0 276.93 622.05L276.93 630.75A2.53 2.54 0 0 0 281.99 630.75L281.99 626.90L279.63 626.90" stroke-width="2.82"/></g><clipPath id="lc1855_6471"><rect x="182.5" y="647.10" width="114.5" height="16.60"/></clipPath><g clip-path="url(#lc1855_6471)" fill="none" stroke="#4b3a33" stroke-linejoin="miter" stroke-miterlimit="3"><path d="M186.82 663.70L189.34 646.60" stroke-width="2.60"/><path d="M192.35 663.70L189.83 646.60" stroke-width="2.60"/><path d="M187.43 660.21L191.74 660.21" stroke-width="2.03"/><path d="M197.45 647.10L197.45 663.70" stroke-width="2.82"/><path d="M203.45 647.10L203.45 663.70" stroke-width="2.82"/><path d="M197.62 646.77L203.28 664.03" stroke-width="2.54"/><path d="M208.63 647.10L208.63 663.70" stroke-width="2.82"/><path d="M208.63 648.51L211.28 648.51A2.81 2.82 0 0 1 214.08 651.33L214.08 659.47A2.81 2.82 0 0 1 211.28 662.29L208.63 662.29" stroke-width="2.82"/><path d="M224.42 646.77L227.00 664.20L229.12 647.10L231.23 664.20L233.81 646.77" stroke-width="2.43"/><path d="M238.75 663.70L241.27 646.60" stroke-width="2.60"/><path d="M244.28 663.70L241.76 646.60" stroke-width="2.60"/><path d="M239.36 660.21L243.67 660.21" stroke-width="2.03"/><path d="M254.22 652.74L254.22 650.94A2.42 2.43 0 0 0 249.38 650.94L249.38 652.74C249.38 655.40 254.22 655.40 254.22 658.39L254.22 659.86A2.42 2.43 0 0 1 249.38 659.86L249.38 658.06" stroke-width="2.82"/><path d="M259.41 647.10L259.41 663.70" stroke-width="2.82"/><path d="M265.32 647.10L265.32 663.70" stroke-width="2.82"/><path d="M259.41 655.15L265.32 655.15" stroke-width="2.82"/><path d="M270.84 647.10L270.84 663.70" stroke-width="2.82"/><path d="M276.37 647.10L276.37 663.70" stroke-width="2.82"/><path d="M282.36 647.10L282.36 663.70" stroke-width="2.82"/><path d="M276.53 646.77L282.19 664.03" stroke-width="2.54"/><path d="M292.60 653.08L292.60 651.05A2.53 2.54 0 0 0 287.54 651.05L287.54 659.75A2.53 2.54 0 0 0 292.60 659.75L292.60 655.90L290.24 655.90" stroke-width="2.82"/></g><clipPath id="lc4302_8004"><rect x="427.2" y="800.40" width="61.9" height="16.60"/></clipPath><g clip-path="url(#lc4302_8004)" fill="none" stroke="#4b3a33" stroke-linejoin="miter" stroke-miterlimit="3"><path d="M431.62 800.40L431.62 817.00" stroke-width="2.82"/><path d="M431.62 801.81L434.34 801.81A2.51 2.49 0 0 1 436.85 804.30L436.85 806.46A2.51 1.99 0 0 1 434.34 808.45L431.62 808.45" stroke-width="2.82"/><path d="M431.62 808.45L434.68 808.45A2.51 2.24 0 0 1 437.18 810.69L437.18 813.10A2.51 2.49 0 0 1 434.68 815.59L431.62 815.59" stroke-width="2.82"/><path d="M442.35 817.00L444.89 799.90" stroke-width="2.60"/><path d="M447.94 817.00L445.39 799.90" stroke-width="2.60"/><path d="M442.97 813.51L447.32 813.51" stroke-width="2.03"/><path d="M453.10 800.40L453.10 817.00" stroke-width="2.82"/><path d="M453.10 815.59L458.50 815.59" stroke-width="2.82"/><path d="M462.67 800.40L462.67 817.00" stroke-width="2.82"/><path d="M468.26 800.40L468.26 817.00" stroke-width="2.82"/><path d="M474.32 800.40L474.32 817.00" stroke-width="2.82"/><path d="M468.42 800.07L474.15 817.33" stroke-width="2.54"/><path d="M484.68 806.38L484.68 804.35A2.56 2.54 0 0 0 479.57 804.35L479.57 813.05A2.56 2.54 0 0 0 484.68 813.05L484.68 809.20L482.29 809.20" stroke-width="2.82"/></g><clipPath id="lc8939_8121"><rect x="890.9" y="812.10" width="101.4" height="16.60"/></clipPath><g clip-path="url(#lc8939_8121)" fill="none" stroke="#4b3a33" stroke-linejoin="miter" stroke-miterlimit="3"><path d="M900.07 817.74L900.07 815.94A2.39 2.43 0 0 0 895.29 815.94L895.29 817.74C895.29 820.40 900.07 820.40 900.07 823.39L900.07 824.86A2.39 2.43 0 0 1 895.29 824.86L895.29 823.06" stroke-width="2.82"/><path d="M905.19 812.10L905.19 828.70" stroke-width="2.82"/><path d="M905.19 813.51L911.16 813.51" stroke-width="2.82"/><path d="M905.19 820.15L910.50 820.15" stroke-width="2.82"/><path d="M905.19 827.29L911.16 827.29" stroke-width="2.82"/><path d="M914.89 812.10L914.89 828.70" stroke-width="2.82"/><path d="M914.89 813.51L917.37 813.51A2.61 2.66 0 0 1 919.98 816.17L919.98 818.99A2.61 2.66 0 0 1 917.37 821.64L914.89 821.64" stroke-width="2.82"/><path d="M925.02 828.70L927.51 811.60" stroke-width="2.60"/><path d="M930.48 828.70L928.00 811.60" stroke-width="2.60"/><path d="M925.63 825.21L929.88 825.21" stroke-width="2.03"/><path d="M935.52 812.10L935.52 828.70" stroke-width="2.82"/><path d="M935.52 813.51L938.35 813.51A2.45 2.49 0 0 1 940.79 816.00L940.79 818.66A2.45 2.49 0 0 1 938.35 821.15L935.52 821.15" stroke-width="2.82"/><path d="M939.00 820.82C940.79 821.64 940.79 823.14 940.96 825.38L941.04 828.70" stroke-width="2.82"/><path d="M946.00 828.70L948.48 811.60" stroke-width="2.60"/><path d="M951.46 828.70L948.97 811.60" stroke-width="2.60"/><path d="M946.60 825.21L950.85 825.21" stroke-width="2.03"/><path d="M954.62 813.51L962.73 813.51" stroke-width="2.82"/><path d="M958.68 812.10L958.68 828.70" stroke-width="2.82"/><path d="M966.31 812.10L966.31 828.70" stroke-width="2.82"/><path d="M976.87 820.40L976.87 816.11A2.55 2.60 0 0 0 971.77 816.11L971.77 824.69A2.55 2.60 0 0 0 976.87 824.69Z" stroke-width="2.82"/><path d="M981.99 812.10L981.99 828.70" stroke-width="2.82"/><path d="M987.91 812.10L987.91 828.70" stroke-width="2.82"/><path d="M982.16 811.77L987.75 829.03" stroke-width="2.54"/></g><clipPath id="lc11308_5949"><rect x="1127.8" y="594.90" width="82.7" height="16.60"/></clipPath><g clip-path="url(#lc11308_5949)" fill="none" stroke="#4b3a33" stroke-linejoin="miter" stroke-miterlimit="3"><path d="M1132.19 594.90L1132.19 611.50" stroke-width="2.82"/><path d="M1140.61 594.90L1140.61 611.50" stroke-width="2.82"/><path d="M1132.35 594.57L1136.40 611.50" stroke-width="2.31"/><path d="M1140.44 594.57L1136.40 611.50" stroke-width="2.31"/><path d="M1145.66 611.50L1148.15 594.40" stroke-width="2.60"/><path d="M1151.13 611.50L1148.64 594.40" stroke-width="2.60"/><path d="M1146.26 608.01L1150.53 608.01" stroke-width="2.03"/><path d="M1154.30 596.31L1162.42 596.31" stroke-width="2.82"/><path d="M1158.36 594.90L1158.36 611.50" stroke-width="2.82"/><path d="M1165.68 594.90L1165.68 611.50" stroke-width="2.82"/><path d="M1165.68 596.31L1171.66 596.31" stroke-width="2.82"/><path d="M1165.68 602.95L1171.00 602.95" stroke-width="2.82"/><path d="M1165.68 610.09L1171.66 610.09" stroke-width="2.82"/><path d="M1175.40 594.90L1175.40 611.50" stroke-width="2.82"/><path d="M1175.40 596.31L1178.23 596.31A2.45 2.49 0 0 1 1180.68 598.80L1180.68 601.46A2.45 2.49 0 0 1 1178.23 603.95L1175.40 603.95" stroke-width="2.82"/><path d="M1178.88 603.62C1180.68 604.44 1180.68 605.94 1180.84 608.18L1180.93 611.50" stroke-width="2.82"/><path d="M1186.31 594.90L1186.31 611.50" stroke-width="2.82"/><path d="M1191.70 611.50L1194.19 594.40" stroke-width="2.60"/><path d="M1197.17 611.50L1194.68 594.40" stroke-width="2.60"/><path d="M1192.30 608.01L1196.56 608.01" stroke-width="2.03"/><path d="M1202.22 594.90L1202.22 611.50" stroke-width="2.82"/><path d="M1202.22 610.09L1207.50 610.09" stroke-width="2.82"/></g><clipPath id="lc11293_6235"><rect x="1126.3" y="623.50" width="90.6" height="16.60"/></clipPath><g clip-path="url(#lc11293_6235)" fill="none" stroke="#4b3a33" stroke-linejoin="miter" stroke-miterlimit="3"><path d="M1130.70 623.50L1130.70 640.10" stroke-width="2.82"/><path d="M1130.70 624.91L1133.56 624.91A2.48 2.49 0 0 1 1136.03 627.40L1136.03 630.06A2.48 2.49 0 0 1 1133.56 632.55L1130.70 632.55" stroke-width="2.82"/><path d="M1134.22 632.22C1136.03 633.04 1136.03 634.54 1136.20 636.78L1136.28 640.10" stroke-width="2.82"/><path d="M1141.38 623.50L1141.38 640.10" stroke-width="2.82"/><path d="M1141.38 624.91L1147.43 624.91" stroke-width="2.82"/><path d="M1141.38 631.55L1146.76 631.55" stroke-width="2.82"/><path d="M1141.38 638.69L1147.43 638.69" stroke-width="2.82"/><path d="M1156.04 629.48L1156.04 627.34A2.42 2.43 0 0 0 1151.21 627.34L1151.21 636.26A2.42 2.43 0 0 0 1156.04 636.26L1156.04 634.12" stroke-width="2.82"/><path d="M1161.14 623.17L1163.66 633.79" stroke-width="2.68"/><path d="M1166.18 623.17L1163.66 633.79" stroke-width="2.68"/><path d="M1163.66 632.80L1163.66 640.10" stroke-width="2.82"/><path d="M1176.11 629.48L1176.11 627.34A2.42 2.43 0 0 0 1171.28 627.34L1171.28 636.26A2.42 2.43 0 0 0 1176.11 636.26L1176.11 634.12" stroke-width="2.82"/><path d="M1181.30 623.50L1181.30 640.10" stroke-width="2.82"/><path d="M1181.30 638.69L1186.63 638.69" stroke-width="2.82"/><path d="M1190.75 623.50L1190.75 640.10" stroke-width="2.82"/><path d="M1196.27 623.50L1196.27 640.10" stroke-width="2.82"/><path d="M1202.26 623.50L1202.26 640.10" stroke-width="2.82"/><path d="M1196.44 623.17L1202.10 640.43" stroke-width="2.54"/><path d="M1212.50 629.48L1212.50 627.45A2.53 2.54 0 0 0 1207.45 627.45L1207.45 636.15A2.53 2.54 0 0 0 1212.50 636.15L1212.50 632.30L1210.14 632.30" stroke-width="2.82"/></g><clipPath id="lc11380_6526"><rect x="1135.0" y="652.70" width="73.2" height="16.60"/></clipPath><g clip-path="url(#lc11380_6526)" fill="none" stroke="#4b3a33" stroke-linejoin="miter" stroke-miterlimit="3"><path d="M1139.38 652.70L1139.38 669.30" stroke-width="2.82"/><path d="M1139.38 654.11L1145.01 654.11" stroke-width="2.82"/><path d="M1139.38 661.00L1144.36 661.00" stroke-width="2.82"/><path d="M1148.66 669.30L1151.14 652.20" stroke-width="2.60"/><path d="M1154.11 669.30L1151.63 652.20" stroke-width="2.60"/><path d="M1149.26 665.81L1153.51 665.81" stroke-width="2.03"/><path d="M1163.91 658.68L1163.91 656.54A2.38 2.43 0 0 0 1159.14 656.54L1159.14 665.46A2.38 2.43 0 0 0 1163.91 665.46L1163.91 663.32" stroke-width="2.82"/><path d="M1169.35 652.70L1169.35 669.30" stroke-width="2.82"/><path d="M1174.80 652.70L1174.80 669.30" stroke-width="2.82"/><path d="M1174.80 667.89L1180.05 667.89" stroke-width="2.82"/><path d="M1184.12 652.70L1184.12 669.30" stroke-width="2.82"/><path d="M1187.69 654.11L1195.78 654.11" stroke-width="2.82"/><path d="M1191.73 652.70L1191.73 669.30" stroke-width="2.82"/><path d="M1198.93 652.37L1201.42 662.99" stroke-width="2.68"/><path d="M1203.90 652.37L1201.42 662.99" stroke-width="2.68"/><path d="M1201.42 662.00L1201.42 669.30" stroke-width="2.82"/></g><clipPath id="lc11864_4392"><rect x="1183.4" y="439.20" width="98.9" height="16.60"/></clipPath><g clip-path="url(#lc11864_4392)" fill="none" stroke="#4b3a33" stroke-linejoin="miter" stroke-miterlimit="3"><path d="M1192.63 445.18L1192.63 443.04A2.41 2.43 0 0 0 1187.80 443.04L1187.80 451.96A2.41 2.43 0 0 0 1192.63 451.96L1192.63 449.82" stroke-width="2.82"/><path d="M1202.97 447.50L1202.97 443.21A2.58 2.60 0 0 0 1197.81 443.21L1197.81 451.79A2.58 2.60 0 0 0 1202.97 451.79Z" stroke-width="2.82"/><path d="M1208.14 439.20L1208.14 455.80" stroke-width="2.82"/><path d="M1208.14 454.39L1213.47 454.39" stroke-width="2.82"/><path d="M1217.24 439.20L1217.24 455.80" stroke-width="2.82"/><path d="M1217.24 454.39L1222.56 454.39" stroke-width="2.82"/><path d="M1226.34 439.20L1226.34 455.80" stroke-width="2.82"/><path d="M1226.34 440.61L1232.37 440.61" stroke-width="2.82"/><path d="M1226.34 447.25L1231.71 447.25" stroke-width="2.82"/><path d="M1226.34 454.39L1232.37 454.39" stroke-width="2.82"/><path d="M1240.98 445.18L1240.98 443.04A2.41 2.43 0 0 0 1236.15 443.04L1236.15 451.96A2.41 2.43 0 0 0 1240.98 451.96L1240.98 449.82" stroke-width="2.82"/><path d="M1244.26 440.61L1252.45 440.61" stroke-width="2.82"/><path d="M1248.35 439.20L1248.35 455.80" stroke-width="2.82"/><path d="M1256.07 439.20L1256.07 455.80" stroke-width="2.82"/><path d="M1266.74 447.50L1266.74 443.21A2.58 2.60 0 0 0 1261.58 443.21L1261.58 451.79A2.58 2.60 0 0 0 1266.74 451.79Z" stroke-width="2.82"/><path d="M1271.92 439.20L1271.92 455.80" stroke-width="2.82"/><path d="M1277.90 439.20L1277.90 455.80" stroke-width="2.82"/><path d="M1272.08 438.87L1277.73 456.13" stroke-width="2.54"/></g><clipPath id="lc9999_2104"><rect x="996.9" y="210.40" width="144.5" height="16.60"/></clipPath><g clip-path="url(#lc9999_2104)" fill="none" stroke="#4b3a33" stroke-linejoin="miter" stroke-miterlimit="3"><path d="M1006.40 218.70L1006.40 214.41A2.56 2.60 0 0 0 1001.29 214.41L1001.29 222.99A2.56 2.60 0 0 0 1006.40 222.99Z" stroke-width="2.82"/><path d="M1011.53 210.40L1011.53 222.95A2.60 2.64 0 0 0 1016.72 222.95L1016.72 210.40" stroke-width="2.82"/><path d="M1021.85 210.40L1021.85 227.00" stroke-width="2.82"/><path d="M1021.85 211.81L1024.67 211.81A2.45 2.49 0 0 1 1027.12 214.30L1027.12 216.96A2.45 2.49 0 0 1 1024.67 219.45L1021.85 219.45" stroke-width="2.82"/><path d="M1025.33 219.12C1027.12 219.94 1027.12 221.44 1027.29 223.68L1027.37 227.00" stroke-width="2.82"/><path d="M1038.01 210.40L1038.01 227.00" stroke-width="2.82"/><path d="M1043.47 210.40L1043.47 227.00" stroke-width="2.82"/><path d="M1049.40 210.40L1049.40 227.00" stroke-width="2.82"/><path d="M1043.63 210.07L1049.23 227.33" stroke-width="2.54"/><path d="M1059.52 216.38L1059.52 214.35A2.50 2.54 0 0 0 1054.53 214.35L1054.53 223.05A2.50 2.54 0 0 0 1059.52 223.05L1059.52 219.20L1057.19 219.20" stroke-width="2.82"/><path d="M1064.65 210.40L1064.65 227.00" stroke-width="2.82"/><path d="M1064.65 211.81L1067.48 211.81A2.45 2.49 0 0 1 1069.93 214.30L1069.93 216.96A2.45 2.49 0 0 1 1067.48 219.45L1064.65 219.45" stroke-width="2.82"/><path d="M1068.13 219.12C1069.93 219.94 1069.93 221.44 1070.09 223.68L1070.17 227.00" stroke-width="2.82"/><path d="M1075.22 210.40L1075.22 227.00" stroke-width="2.82"/><path d="M1075.22 211.81L1081.19 211.81" stroke-width="2.82"/><path d="M1075.22 218.45L1080.54 218.45" stroke-width="2.82"/><path d="M1075.22 225.59L1081.19 225.59" stroke-width="2.82"/><path d="M1084.93 210.40L1084.93 227.00" stroke-width="2.82"/><path d="M1084.93 211.81L1087.55 211.81A2.78 2.82 0 0 1 1090.32 214.63L1090.32 222.77A2.78 2.82 0 0 1 1087.55 225.59L1084.93 225.59" stroke-width="2.82"/><path d="M1095.79 210.40L1095.79 227.00" stroke-width="2.82"/><path d="M1101.17 227.00L1103.66 209.90" stroke-width="2.60"/><path d="M1106.64 227.00L1104.15 209.90" stroke-width="2.60"/><path d="M1101.77 223.51L1106.03 223.51" stroke-width="2.03"/><path d="M1111.68 210.40L1111.68 227.00" stroke-width="2.82"/><path d="M1117.61 210.40L1117.61 227.00" stroke-width="2.82"/><path d="M1111.85 210.07L1117.45 227.33" stroke-width="2.54"/><path d="M1120.86 211.81L1128.98 211.81" stroke-width="2.82"/><path d="M1124.92 210.40L1124.92 227.00" stroke-width="2.82"/><path d="M1137.01 216.04L1137.01 214.24A2.39 2.43 0 0 0 1132.23 214.24L1132.23 216.04C1132.23 218.70 1137.01 218.70 1137.01 221.69L1137.01 223.16A2.39 2.43 0 0 1 1132.23 223.16L1132.23 221.36" stroke-width="2.82"/></g><clipPath id="lc10281_2396"><rect x="1025.1" y="239.60" width="93.5" height="16.60"/></clipPath><g clip-path="url(#lc10281_2396)" fill="none" stroke="#4b3a33" stroke-linejoin="miter" stroke-miterlimit="3"><path d="M1029.50 239.60L1029.50 256.20" stroke-width="2.82"/><path d="M1029.50 241.01L1032.02 241.01A2.64 2.66 0 0 1 1034.66 243.67L1034.66 246.49A2.64 2.66 0 0 1 1032.02 249.14L1029.50 249.14" stroke-width="2.82"/><path d="M1039.77 256.20L1042.29 239.10" stroke-width="2.60"/><path d="M1045.30 256.20L1042.78 239.10" stroke-width="2.60"/><path d="M1040.38 252.71L1044.69 252.71" stroke-width="2.03"/><path d="M1055.25 245.58L1055.25 243.44A2.42 2.43 0 0 0 1050.41 243.44L1050.41 252.36A2.42 2.43 0 0 0 1055.25 252.36L1055.25 250.22" stroke-width="2.82"/><path d="M1060.44 239.60L1060.44 256.20" stroke-width="2.82"/><path d="M1066.34 239.27L1060.77 249.89" stroke-width="2.68"/><path d="M1062.59 246.24L1066.50 256.53" stroke-width="2.77"/><path d="M1071.20 256.20L1073.72 239.10" stroke-width="2.60"/><path d="M1076.73 256.20L1074.21 239.10" stroke-width="2.60"/><path d="M1071.81 252.71L1076.12 252.71" stroke-width="2.03"/><path d="M1086.90 245.58L1086.90 243.55A2.53 2.54 0 0 0 1081.84 243.55L1081.84 252.25A2.53 2.54 0 0 0 1086.90 252.25L1086.90 248.40L1084.53 248.40" stroke-width="2.82"/><path d="M1092.42 239.60L1092.42 256.20" stroke-width="2.82"/><path d="M1097.95 239.60L1097.95 256.20" stroke-width="2.82"/><path d="M1103.95 239.60L1103.95 256.20" stroke-width="2.82"/><path d="M1098.12 239.27L1103.78 256.53" stroke-width="2.54"/><path d="M1114.20 245.58L1114.20 243.55A2.53 2.54 0 0 0 1109.14 243.55L1109.14 252.25A2.53 2.54 0 0 0 1114.20 252.25L1114.20 248.40L1111.83 248.40" stroke-width="2.82"/></g>
</svg>
</body></html>
